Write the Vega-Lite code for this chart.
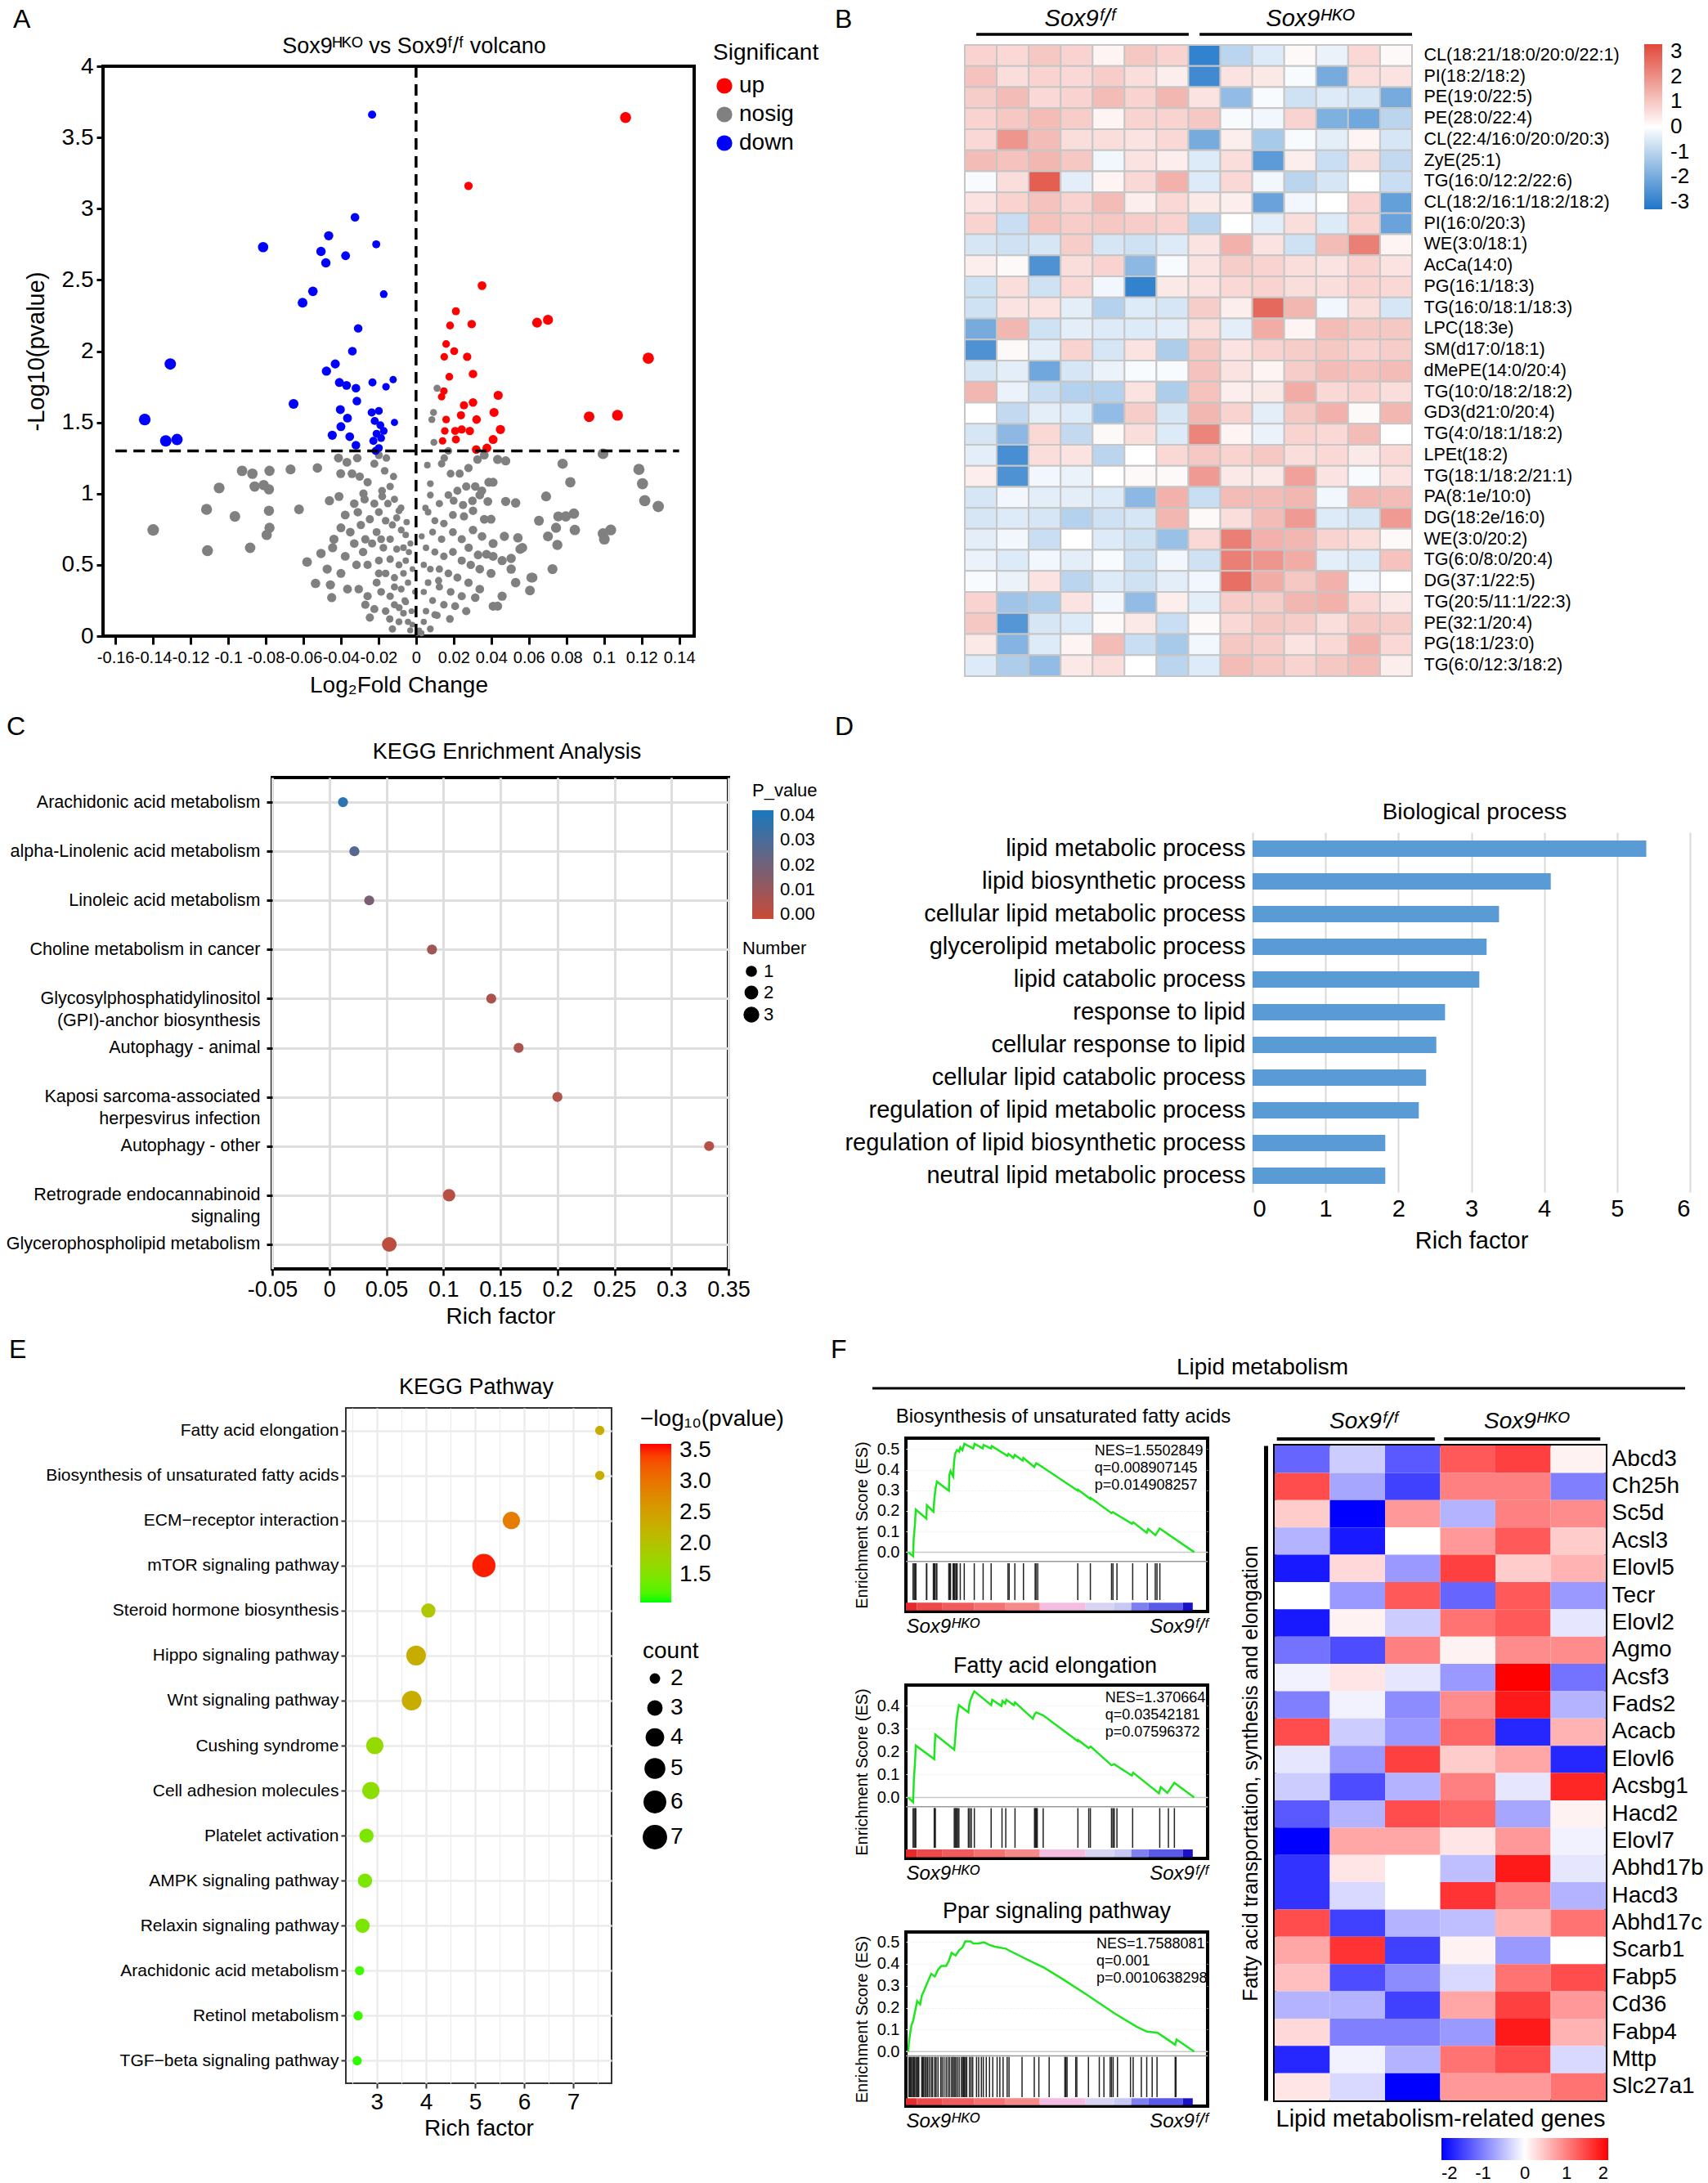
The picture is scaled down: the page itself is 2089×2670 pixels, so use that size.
{
"$schema":"https://vega.github.io/schema/vega-lite/v6.json",
"background":"white",
"padding":{"left":0,"top":8,"right":0,"bottom":0},
"config":{"font":"Liberation Sans","view":{"stroke":null},
"axis":{"labelColor":"black","titleColor":"black","tickColor":"black","domainColor":"black","titleFontWeight":"normal","labelFont":"Liberation Sans","titleFont":"Liberation Sans","labelLimit":0},
"legend":{"labelColor":"black","titleColor":"black","titleFontWeight":"normal","labelFont":"Liberation Sans","titleFont":"Liberation Sans","labelLimit":0,"titleLimit":0},
"title":{"fontWeight":"normal","color":"black","font":"Liberation Sans"},
"text":{"font":"Liberation Sans","color":"black"}},
"datasets":{
"volcano":[
{"x":-0.1399,"y":0.745,"s":"nosig"},{"x":-0.111,"y":0.6,"s":"nosig"},{"x":-0.1115,"y":0.89,"s":"nosig"},{"x":-0.1048,"y":1.04,"s":"nosig"},{"x":-0.0964,"y":0.84,"s":"nosig"},{"x":-0.0926,"y":1.16,"s":"nosig"},{"x":-0.0871,"y":1.14,"s":"nosig"},{"x":-0.078,"y":1.16,"s":"nosig"},{"x":-0.0859,"y":1.05,"s":"nosig"},{"x":-0.0811,"y":1.06,"s":"nosig"},{"x":-0.0783,"y":1.03,"s":"nosig"},{"x":-0.0783,"y":0.88,"s":"nosig"},{"x":-0.078,"y":0.76,"s":"nosig"},{"x":-0.0795,"y":0.71,"s":"nosig"},{"x":-0.0883,"y":0.62,"s":"nosig"},{"x":-0.0668,"y":1.17,"s":"nosig"},{"x":-0.0623,"y":0.89,"s":"nosig"},{"x":-0.0525,"y":1.18,"s":"nosig"},{"x":-0.0413,"y":1.25,"s":"nosig"},{"x":-0.0368,"y":1.22,"s":"nosig"},{"x":-0.0313,"y":1.25,"s":"nosig"},{"x":-0.058,"y":0.52,"s":"nosig"},{"x":-0.0535,"y":0.37,"s":"nosig"},{"x":-0.0506,"y":0.58,"s":"nosig"},{"x":-0.0473,"y":0.47,"s":"nosig"},{"x":-0.0456,"y":0.36,"s":"nosig"},{"x":-0.0449,"y":0.27,"s":"nosig"},{"x":-0.0444,"y":0.62,"s":"nosig"},{"x":-0.0461,"y":0.95,"s":"nosig"},{"x":-0.041,"y":0.98,"s":"nosig"},{"x":-0.0401,"y":1.14,"s":"nosig"},{"x":-0.0341,"y":1.14,"s":"nosig"},{"x":-0.0258,"y":1.08,"s":"nosig"},{"x":-0.0222,"y":1.21,"s":"nosig"},{"x":-0.0167,"y":1.16,"s":"nosig"},{"x":-0.0158,"y":1.25,"s":"nosig"},{"x":-0.0181,"y":1.02,"s":"nosig"},{"x":-0.0138,"y":1.05,"s":"nosig"},{"x":-0.0115,"y":0.96,"s":"nosig"},{"x":-0.0091,"y":0.88,"s":"nosig"},{"x":-0.031,"y":0.87,"s":"nosig"},{"x":-0.0274,"y":0.96,"s":"nosig"},{"x":-0.0329,"y":0.93,"s":"nosig"},{"x":-0.0377,"y":0.85,"s":"nosig"},{"x":-0.04,"y":0.76,"s":"nosig"},{"x":-0.035,"y":0.73,"s":"nosig"},{"x":-0.0294,"y":0.78,"s":"nosig"},{"x":-0.0246,"y":0.82,"s":"nosig"},{"x":-0.0198,"y":0.87,"s":"nosig"},{"x":-0.0162,"y":0.81,"s":"nosig"},{"x":-0.0126,"y":0.78,"s":"nosig"},{"x":-0.021,"y":0.73,"s":"nosig"},{"x":-0.0138,"y":0.68,"s":"nosig"},{"x":-0.0174,"y":0.62,"s":"nosig"},{"x":-0.0103,"y":0.61,"s":"nosig"},{"x":-0.0067,"y":0.62,"s":"nosig"},{"x":-0.0234,"y":0.65,"s":"nosig"},{"x":-0.0282,"y":0.59,"s":"nosig"},{"x":-0.0329,"y":0.65,"s":"nosig"},{"x":-0.0377,"y":0.56,"s":"nosig"},{"x":-0.0317,"y":0.5,"s":"nosig"},{"x":-0.0258,"y":0.5,"s":"nosig"},{"x":-0.0198,"y":0.53,"s":"nosig"},{"x":-0.0138,"y":0.54,"s":"nosig"},{"x":-0.0091,"y":0.5,"s":"nosig"},{"x":-0.0055,"y":0.53,"s":"nosig"},{"x":-0.0162,"y":0.44,"s":"nosig"},{"x":-0.0115,"y":0.41,"s":"nosig"},{"x":-0.0067,"y":0.44,"s":"nosig"},{"x":-0.021,"y":0.375,"s":"nosig"},{"x":-0.0305,"y":0.33,"s":"nosig"},{"x":-0.0365,"y":0.33,"s":"nosig"},{"x":-0.0258,"y":0.28,"s":"nosig"},{"x":-0.0186,"y":0.31,"s":"nosig"},{"x":-0.0138,"y":0.28,"s":"nosig"},{"x":-0.0079,"y":0.33,"s":"nosig"},{"x":-0.0043,"y":0.375,"s":"nosig"},{"x":-0.0115,"y":0.22,"s":"nosig"},{"x":-0.0055,"y":0.24,"s":"nosig"},{"x":-0.0162,"y":0.175,"s":"nosig"},{"x":-0.0246,"y":0.13,"s":"nosig"},{"x":-0.0067,"y":0.16,"s":"nosig"},{"x":-0.0091,"y":0.1,"s":"nosig"},{"x":-0.0043,"y":0.1,"s":"nosig"},{"x":-0.0126,"y":0.05,"s":"nosig"},{"x":-0.0031,"y":0.04,"s":"nosig"},{"x":-0.0019,"y":0.47,"s":"nosig"},{"x":-0.0038,"y":0.59,"s":"nosig"},{"x":-0.0055,"y":0.71,"s":"nosig"},{"x":-0.0079,"y":0.745,"s":"nosig"},{"x":-0.027,"y":0.22,"s":"nosig"},{"x":-0.0222,"y":0.19,"s":"nosig"},{"x":-0.0198,"y":0.44,"s":"nosig"},{"x":-0.0115,"y":0.345,"s":"nosig"},{"x":-0.0007,"y":0.31,"s":"nosig"},{"x":-0.0024,"y":0.175,"s":"nosig"},{"x":-0.04,"y":0.44,"s":"nosig"},{"x":-0.0437,"y":0.68,"s":"nosig"},{"x":-0.027,"y":0.68,"s":"nosig"},{"x":-0.0186,"y":0.68,"s":"nosig"},{"x":-0.015,"y":0.93,"s":"nosig"},{"x":-0.0103,"y":0.83,"s":"nosig"},{"x":-0.0222,"y":0.93,"s":"nosig"},{"x":-0.0198,"y":1.27,"s":"nosig"},{"x":-0.008,"y":0.9,"s":"nosig"},{"x":-0.005,"y":0.8,"s":"nosig"},{"x":-0.003,"y":0.65,"s":"nosig"},{"x":-0.012,"y":1.12,"s":"nosig"},{"x":-0.018,"y":0.98,"s":"nosig"},{"x":-0.028,"y":1.0,"s":"nosig"},{"x":-0.03,"y":1.12,"s":"nosig"},{"x":-0.006,"y":0.25,"s":"nosig"},{"x":-0.002,"y":0.08,"s":"nosig"},{"x":-0.009,"y":0.2,"s":"nosig"},{"x":-0.014,"y":0.12,"s":"nosig"},
{"x":0.0093,"y":1.57,"s":"nosig"},{"x":0.0084,"y":1.52,"s":"nosig"},{"x":0.0112,"y":1.74,"s":"nosig"},{"x":0.0095,"y":1.36,"s":"nosig"},{"x":0.0172,"y":1.3,"s":"nosig"},{"x":0.0136,"y":1.21,"s":"nosig"},{"x":0.0184,"y":1.14,"s":"nosig"},{"x":0.0232,"y":1.14,"s":"nosig"},{"x":0.0279,"y":1.18,"s":"nosig"},{"x":0.0327,"y":1.24,"s":"nosig"},{"x":0.0363,"y":1.27,"s":"nosig"},{"x":0.0434,"y":1.24,"s":"nosig"},{"x":0.0477,"y":1.23,"s":"nosig"},{"x":0.0387,"y":1.08,"s":"nosig"},{"x":0.041,"y":1.08,"s":"nosig"},{"x":0.0315,"y":1.05,"s":"nosig"},{"x":0.0339,"y":0.99,"s":"nosig"},{"x":0.0267,"y":1.05,"s":"nosig"},{"x":0.022,"y":1.02,"s":"nosig"},{"x":0.0172,"y":0.99,"s":"nosig"},{"x":0.0124,"y":0.93,"s":"nosig"},{"x":0.0076,"y":0.99,"s":"nosig"},{"x":0.0064,"y":0.87,"s":"nosig"},{"x":0.0076,"y":1.07,"s":"nosig"},{"x":0.0477,"y":0.945,"s":"nosig"},{"x":0.053,"y":0.935,"s":"nosig"},{"x":0.0382,"y":0.945,"s":"nosig"},{"x":0.0303,"y":0.88,"s":"nosig"},{"x":0.0363,"y":0.82,"s":"nosig"},{"x":0.0399,"y":0.82,"s":"nosig"},{"x":0.0255,"y":0.84,"s":"nosig"},{"x":0.0196,"y":0.85,"s":"nosig"},{"x":0.0148,"y":0.79,"s":"nosig"},{"x":0.01,"y":0.81,"s":"nosig"},{"x":0.0088,"y":0.73,"s":"nosig"},{"x":0.0136,"y":0.68,"s":"nosig"},{"x":0.0196,"y":0.73,"s":"nosig"},{"x":0.0243,"y":0.68,"s":"nosig"},{"x":0.0303,"y":0.745,"s":"nosig"},{"x":0.041,"y":0.65,"s":"nosig"},{"x":0.0351,"y":0.7,"s":"nosig"},{"x":0.047,"y":0.7,"s":"nosig"},{"x":0.0542,"y":0.69,"s":"nosig"},{"x":0.0375,"y":0.575,"s":"nosig"},{"x":0.041,"y":0.56,"s":"nosig"},{"x":0.0458,"y":0.53,"s":"nosig"},{"x":0.0506,"y":0.545,"s":"nosig"},{"x":0.0554,"y":0.61,"s":"nosig"},{"x":0.0566,"y":0.62,"s":"nosig"},{"x":0.0506,"y":0.47,"s":"nosig"},{"x":0.053,"y":0.375,"s":"nosig"},{"x":0.0613,"y":0.41,"s":"nosig"},{"x":0.0606,"y":0.32,"s":"nosig"},{"x":0.0458,"y":0.28,"s":"nosig"},{"x":0.041,"y":0.21,"s":"nosig"},{"x":0.0399,"y":0.44,"s":"nosig"},{"x":0.0339,"y":0.47,"s":"nosig"},{"x":0.0291,"y":0.5,"s":"nosig"},{"x":0.0243,"y":0.53,"s":"nosig"},{"x":0.0196,"y":0.59,"s":"nosig"},{"x":0.0148,"y":0.56,"s":"nosig"},{"x":0.01,"y":0.59,"s":"nosig"},{"x":0.0053,"y":0.62,"s":"nosig"},{"x":0.0041,"y":0.5,"s":"nosig"},{"x":0.0076,"y":0.47,"s":"nosig"},{"x":0.0124,"y":0.47,"s":"nosig"},{"x":0.0172,"y":0.44,"s":"nosig"},{"x":0.022,"y":0.41,"s":"nosig"},{"x":0.0279,"y":0.375,"s":"nosig"},{"x":0.0339,"y":0.33,"s":"nosig"},{"x":0.0315,"y":0.27,"s":"nosig"},{"x":0.0243,"y":0.28,"s":"nosig"},{"x":0.0184,"y":0.31,"s":"nosig"},{"x":0.0124,"y":0.345,"s":"nosig"},{"x":0.0064,"y":0.375,"s":"nosig"},{"x":0.0041,"y":0.31,"s":"nosig"},{"x":0.0088,"y":0.25,"s":"nosig"},{"x":0.0148,"y":0.22,"s":"nosig"},{"x":0.0208,"y":0.21,"s":"nosig"},{"x":0.0267,"y":0.175,"s":"nosig"},{"x":0.0053,"y":0.175,"s":"nosig"},{"x":0.0112,"y":0.145,"s":"nosig"},{"x":0.0041,"y":0.1,"s":"nosig"},{"x":0.0076,"y":0.05,"s":"nosig"},{"x":0.0017,"y":0.04,"s":"nosig"},{"x":0.0029,"y":0.02,"s":"nosig"},{"x":0.0005,"y":0.02,"s":"nosig"},{"x":0.0434,"y":0.21,"s":"nosig"},{"x":0.078,"y":1.21,"s":"nosig"},{"x":0.0821,"y":1.08,"s":"nosig"},{"x":0.0692,"y":0.98,"s":"nosig"},{"x":0.0654,"y":0.81,"s":"nosig"},{"x":0.0757,"y":0.84,"s":"nosig"},{"x":0.084,"y":0.86,"s":"nosig"},{"x":0.0797,"y":0.84,"s":"nosig"},{"x":0.0845,"y":0.745,"s":"nosig"},{"x":0.0745,"y":0.76,"s":"nosig"},{"x":0.0702,"y":0.7,"s":"nosig"},{"x":0.0752,"y":0.64,"s":"nosig"},{"x":0.0726,"y":0.47,"s":"nosig"},{"x":0.062,"y":0.41,"s":"nosig"},{"x":0.0995,"y":1.28,"s":"nosig"},{"x":0.1186,"y":1.17,"s":"nosig"},{"x":0.1205,"y":1.07,"s":"nosig"},{"x":0.1217,"y":0.95,"s":"nosig"},{"x":0.1289,"y":0.91,"s":"nosig"},{"x":0.1036,"y":0.745,"s":"nosig"},{"x":0.0995,"y":0.72,"s":"nosig"},{"x":0.1002,"y":0.68,"s":"nosig"},{"x":0.005,"y":0.9,"s":"nosig"},{"x":0.003,"y":0.7,"s":"nosig"},{"x":0.006,"y":1.2,"s":"nosig"},{"x":0.015,"y":1.25,"s":"nosig"},{"x":0.02,"y":0.95,"s":"nosig"},{"x":0.025,"y":0.92,"s":"nosig"},{"x":0.03,"y":0.95,"s":"nosig"},{"x":0.035,"y":1.02,"s":"nosig"},{"x":0.028,"y":0.62,"s":"nosig"},{"x":0.033,"y":0.57,"s":"nosig"},{"x":0.012,"y":0.39,"s":"nosig"},{"x":0.018,"y":0.12,"s":"nosig"},{"x":0.01,"y":0.15,"s":"nosig"},
{"x":-0.0234,"y":3.66,"s":"down"},{"x":-0.0814,"y":2.73,"s":"down"},{"x":-0.0465,"y":2.81,"s":"down"},{"x":-0.0506,"y":2.7,"s":"down"},{"x":-0.048,"y":2.62,"s":"down"},{"x":-0.0375,"y":2.67,"s":"down"},{"x":-0.0325,"y":2.94,"s":"down"},{"x":-0.0212,"y":2.75,"s":"down"},{"x":-0.0549,"y":2.42,"s":"down"},{"x":-0.0604,"y":2.34,"s":"down"},{"x":-0.0172,"y":2.4,"s":"down"},{"x":-0.0308,"y":2.16,"s":"down"},{"x":-0.0339,"y":2.0,"s":"down"},{"x":-0.043,"y":1.91,"s":"down"},{"x":-0.0477,"y":1.86,"s":"down"},{"x":-0.1308,"y":1.91,"s":"down"},{"x":-0.1444,"y":1.52,"s":"down"},{"x":-0.1332,"y":1.37,"s":"down"},{"x":-0.1272,"y":1.38,"s":"down"},{"x":-0.0652,"y":1.63,"s":"down"},{"x":-0.0408,"y":1.78,"s":"down"},{"x":-0.037,"y":1.76,"s":"down"},{"x":-0.032,"y":1.74,"s":"down"},{"x":-0.0315,"y":1.65,"s":"down"},{"x":-0.0232,"y":1.78,"s":"down"},{"x":-0.016,"y":1.75,"s":"down"},{"x":-0.0122,"y":1.8,"s":"down"},{"x":-0.0403,"y":1.59,"s":"down"},{"x":-0.0365,"y":1.53,"s":"down"},{"x":-0.04,"y":1.47,"s":"down"},{"x":-0.0446,"y":1.41,"s":"down"},{"x":-0.0353,"y":1.4,"s":"down"},{"x":-0.032,"y":1.34,"s":"down"},{"x":-0.0236,"y":1.57,"s":"down"},{"x":-0.0198,"y":1.58,"s":"down"},{"x":-0.022,"y":1.51,"s":"down"},{"x":-0.019,"y":1.48,"s":"down"},{"x":-0.0115,"y":1.5,"s":"down"},{"x":-0.021,"y":1.42,"s":"down"},{"x":-0.0172,"y":1.44,"s":"down"},{"x":-0.0227,"y":1.37,"s":"down"},{"x":-0.0198,"y":1.32,"s":"down"},{"x":-0.0215,"y":1.3,"s":"down"},{"x":-0.0186,"y":1.39,"s":"down"},
{"x":0.1115,"y":3.64,"s":"up"},{"x":0.0279,"y":3.16,"s":"up"},{"x":0.0351,"y":2.46,"s":"up"},{"x":0.0212,"y":2.28,"s":"up"},{"x":0.0181,"y":2.18,"s":"up"},{"x":0.0296,"y":2.19,"s":"up"},{"x":0.0644,"y":2.2,"s":"up"},{"x":0.0702,"y":2.22,"s":"up"},{"x":0.1236,"y":1.95,"s":"up"},{"x":0.016,"y":2.05,"s":"up"},{"x":0.0203,"y":2.0,"s":"up"},{"x":0.015,"y":1.96,"s":"up"},{"x":0.0272,"y":1.96,"s":"up"},{"x":0.0177,"y":1.82,"s":"up"},{"x":0.0303,"y":1.84,"s":"up"},{"x":0.0148,"y":1.72,"s":"up"},{"x":0.0136,"y":1.68,"s":"up"},{"x":0.0437,"y":1.69,"s":"up"},{"x":0.0255,"y":1.62,"s":"up"},{"x":0.0303,"y":1.64,"s":"up"},{"x":0.0415,"y":1.57,"s":"up"},{"x":0.0239,"y":1.55,"s":"up"},{"x":0.0322,"y":1.52,"s":"up"},{"x":0.016,"y":1.52,"s":"up"},{"x":0.0153,"y":1.44,"s":"up"},{"x":0.0208,"y":1.44,"s":"up"},{"x":0.0243,"y":1.45,"s":"up"},{"x":0.0286,"y":1.44,"s":"up"},{"x":0.0449,"y":1.45,"s":"up"},{"x":0.0141,"y":1.37,"s":"up"},{"x":0.0212,"y":1.38,"s":"up"},{"x":0.041,"y":1.38,"s":"up"},{"x":0.0377,"y":1.32,"s":"up"},{"x":0.032,"y":1.31,"s":"up"},{"x":0.0921,"y":1.54,"s":"up"},{"x":0.1072,"y":1.55,"s":"up"}
],
"bheat":[
{"g":"CL(18:21/18:0/20:0/22:1)","s":1,"v":0.8},{"g":"CL(18:21/18:0/20:0/22:1)","s":2,"v":0.7},{"g":"CL(18:21/18:0/20:0/22:1)","s":3,"v":1.0},{"g":"CL(18:21/18:0/20:0/22:1)","s":4,"v":0.8},{"g":"CL(18:21/18:0/20:0/22:1)","s":5,"v":0.2},{"g":"CL(18:21/18:0/20:0/22:1)","s":6,"v":1.0},{"g":"CL(18:21/18:0/20:0/22:1)","s":7,"v":0.8},{"g":"CL(18:21/18:0/20:0/22:1)","s":8,"v":-3.0},{"g":"CL(18:21/18:0/20:0/22:1)","s":9,"v":-1.0},{"g":"CL(18:21/18:0/20:0/22:1)","s":10,"v":-0.5},{"g":"CL(18:21/18:0/20:0/22:1)","s":11,"v":0.1},{"g":"CL(18:21/18:0/20:0/22:1)","s":12,"v":-0.3},{"g":"CL(18:21/18:0/20:0/22:1)","s":13,"v":0.7},{"g":"CL(18:21/18:0/20:0/22:1)","s":14,"v":0.1},
{"g":"PI(18:2/18:2)","s":1,"v":1.1},{"g":"PI(18:2/18:2)","s":2,"v":0.6},{"g":"PI(18:2/18:2)","s":3,"v":0.8},{"g":"PI(18:2/18:2)","s":4,"v":0.7},{"g":"PI(18:2/18:2)","s":5,"v":0.9},{"g":"PI(18:2/18:2)","s":6,"v":0.6},{"g":"PI(18:2/18:2)","s":7,"v":0.3},{"g":"PI(18:2/18:2)","s":8,"v":-2.8},{"g":"PI(18:2/18:2)","s":9,"v":0.5},{"g":"PI(18:2/18:2)","s":10,"v":0.4},{"g":"PI(18:2/18:2)","s":11,"v":-0.1},{"g":"PI(18:2/18:2)","s":12,"v":-2.0},{"g":"PI(18:2/18:2)","s":13,"v":0.6},{"g":"PI(18:2/18:2)","s":14,"v":0.5},
{"g":"PE(19:0/22:5)","s":1,"v":0.9},{"g":"PE(19:0/22:5)","s":2,"v":1.2},{"g":"PE(19:0/22:5)","s":3,"v":0.7},{"g":"PE(19:0/22:5)","s":4,"v":0.8},{"g":"PE(19:0/22:5)","s":5,"v":1.2},{"g":"PE(19:0/22:5)","s":6,"v":0.8},{"g":"PE(19:0/22:5)","s":7,"v":1.3},{"g":"PE(19:0/22:5)","s":8,"v":0.5},{"g":"PE(19:0/22:5)","s":9,"v":-1.6},{"g":"PE(19:0/22:5)","s":10,"v":-0.1},{"g":"PE(19:0/22:5)","s":11,"v":-0.7},{"g":"PE(19:0/22:5)","s":12,"v":-0.5},{"g":"PE(19:0/22:5)","s":13,"v":-0.6},{"g":"PE(19:0/22:5)","s":14,"v":-2.0},
{"g":"PE(28:0/22:4)","s":1,"v":0.8},{"g":"PE(28:0/22:4)","s":2,"v":1.0},{"g":"PE(28:0/22:4)","s":3,"v":1.2},{"g":"PE(28:0/22:4)","s":4,"v":0.9},{"g":"PE(28:0/22:4)","s":5,"v":0.2},{"g":"PE(28:0/22:4)","s":6,"v":0.8},{"g":"PE(28:0/22:4)","s":7,"v":0.8},{"g":"PE(28:0/22:4)","s":8,"v":1.0},{"g":"PE(28:0/22:4)","s":9,"v":-0.1},{"g":"PE(28:0/22:4)","s":10,"v":-0.2},{"g":"PE(28:0/22:4)","s":11,"v":0.8},{"g":"PE(28:0/22:4)","s":12,"v":-1.9},{"g":"PE(28:0/22:4)","s":13,"v":-2.1},{"g":"PE(28:0/22:4)","s":14,"v":-1.0},
{"g":"CL(22:4/16:0/20:0/20:3)","s":1,"v":0.7},{"g":"CL(22:4/16:0/20:0/20:3)","s":2,"v":1.9},{"g":"CL(22:4/16:0/20:0/20:3)","s":3,"v":1.2},{"g":"CL(22:4/16:0/20:0/20:3)","s":4,"v":0.6},{"g":"CL(22:4/16:0/20:0/20:3)","s":5,"v":0.6},{"g":"CL(22:4/16:0/20:0/20:3)","s":6,"v":0.5},{"g":"CL(22:4/16:0/20:0/20:3)","s":7,"v":0.7},{"g":"CL(22:4/16:0/20:0/20:3)","s":8,"v":-2.0},{"g":"CL(22:4/16:0/20:0/20:3)","s":9,"v":0.3},{"g":"CL(22:4/16:0/20:0/20:3)","s":10,"v":-1.3},{"g":"CL(22:4/16:0/20:0/20:3)","s":11,"v":-0.1},{"g":"CL(22:4/16:0/20:0/20:3)","s":12,"v":-0.4},{"g":"CL(22:4/16:0/20:0/20:3)","s":13,"v":0.2},{"g":"CL(22:4/16:0/20:0/20:3)","s":14,"v":-0.6},
{"g":"ZyE(25:1)","s":1,"v":1.2},{"g":"ZyE(25:1)","s":2,"v":1.1},{"g":"ZyE(25:1)","s":3,"v":1.3},{"g":"ZyE(25:1)","s":4,"v":1.0},{"g":"ZyE(25:1)","s":5,"v":-0.2},{"g":"ZyE(25:1)","s":6,"v":0.5},{"g":"ZyE(25:1)","s":7,"v":0.3},{"g":"ZyE(25:1)","s":8,"v":-0.5},{"g":"ZyE(25:1)","s":9,"v":0.6},{"g":"ZyE(25:1)","s":10,"v":-2.4},{"g":"ZyE(25:1)","s":11,"v":0.3},{"g":"ZyE(25:1)","s":12,"v":-0.8},{"g":"ZyE(25:1)","s":13,"v":0.6},{"g":"ZyE(25:1)","s":14,"v":-0.9},
{"g":"TG(16:0/12:2/22:6)","s":1,"v":-0.1},{"g":"TG(16:0/12:2/22:6)","s":2,"v":0.6},{"g":"TG(16:0/12:2/22:6)","s":3,"v":2.9},{"g":"TG(16:0/12:2/22:6)","s":4,"v":-0.4},{"g":"TG(16:0/12:2/22:6)","s":5,"v":0.2},{"g":"TG(16:0/12:2/22:6)","s":6,"v":0.7},{"g":"TG(16:0/12:2/22:6)","s":7,"v":1.4},{"g":"TG(16:0/12:2/22:6)","s":8,"v":-0.5},{"g":"TG(16:0/12:2/22:6)","s":9,"v":0.7},{"g":"TG(16:0/12:2/22:6)","s":10,"v":-0.2},{"g":"TG(16:0/12:2/22:6)","s":11,"v":-1.0},{"g":"TG(16:0/12:2/22:6)","s":12,"v":-0.6},{"g":"TG(16:0/12:2/22:6)","s":13,"v":0.0},{"g":"TG(16:0/12:2/22:6)","s":14,"v":-0.8},
{"g":"CL(18:2/16:1/18:2/18:2)","s":1,"v":0.5},{"g":"CL(18:2/16:1/18:2/18:2)","s":2,"v":0.8},{"g":"CL(18:2/16:1/18:2/18:2)","s":3,"v":1.1},{"g":"CL(18:2/16:1/18:2/18:2)","s":4,"v":0.8},{"g":"CL(18:2/16:1/18:2/18:2)","s":5,"v":1.2},{"g":"CL(18:2/16:1/18:2/18:2)","s":6,"v":0.3},{"g":"CL(18:2/16:1/18:2/18:2)","s":7,"v":0.7},{"g":"CL(18:2/16:1/18:2/18:2)","s":8,"v":0.4},{"g":"CL(18:2/16:1/18:2/18:2)","s":9,"v":0.3},{"g":"CL(18:2/16:1/18:2/18:2)","s":10,"v":-2.2},{"g":"CL(18:2/16:1/18:2/18:2)","s":11,"v":-0.2},{"g":"CL(18:2/16:1/18:2/18:2)","s":12,"v":0.0},{"g":"CL(18:2/16:1/18:2/18:2)","s":13,"v":0.8},{"g":"CL(18:2/16:1/18:2/18:2)","s":14,"v":-2.3},
{"g":"PI(16:0/20:3)","s":1,"v":0.8},{"g":"PI(16:0/20:3)","s":2,"v":-0.8},{"g":"PI(16:0/20:3)","s":3,"v":1.1},{"g":"PI(16:0/20:3)","s":4,"v":0.9},{"g":"PI(16:0/20:3)","s":5,"v":1.0},{"g":"PI(16:0/20:3)","s":6,"v":0.9},{"g":"PI(16:0/20:3)","s":7,"v":0.8},{"g":"PI(16:0/20:3)","s":8,"v":-1.0},{"g":"PI(16:0/20:3)","s":9,"v":0.0},{"g":"PI(16:0/20:3)","s":10,"v":-0.4},{"g":"PI(16:0/20:3)","s":11,"v":0.6},{"g":"PI(16:0/20:3)","s":12,"v":-0.5},{"g":"PI(16:0/20:3)","s":13,"v":0.8},{"g":"PI(16:0/20:3)","s":14,"v":-2.2},
{"g":"WE(3:0/18:1)","s":1,"v":-0.6},{"g":"WE(3:0/18:1)","s":2,"v":-0.7},{"g":"WE(3:0/18:1)","s":3,"v":-0.6},{"g":"WE(3:0/18:1)","s":4,"v":0.9},{"g":"WE(3:0/18:1)","s":5,"v":-0.6},{"g":"WE(3:0/18:1)","s":6,"v":-0.7},{"g":"WE(3:0/18:1)","s":7,"v":-0.5},{"g":"WE(3:0/18:1)","s":8,"v":0.5},{"g":"WE(3:0/18:1)","s":9,"v":1.4},{"g":"WE(3:0/18:1)","s":10,"v":0.5},{"g":"WE(3:0/18:1)","s":11,"v":-0.7},{"g":"WE(3:0/18:1)","s":12,"v":1.2},{"g":"WE(3:0/18:1)","s":13,"v":2.3},{"g":"WE(3:0/18:1)","s":14,"v":0.2},
{"g":"AcCa(14:0)","s":1,"v":0.3},{"g":"AcCa(14:0)","s":2,"v":0.1},{"g":"AcCa(14:0)","s":3,"v":-2.6},{"g":"AcCa(14:0)","s":4,"v":0.6},{"g":"AcCa(14:0)","s":5,"v":0.8},{"g":"AcCa(14:0)","s":6,"v":-1.7},{"g":"AcCa(14:0)","s":7,"v":-0.1},{"g":"AcCa(14:0)","s":8,"v":0.5},{"g":"AcCa(14:0)","s":9,"v":0.9},{"g":"AcCa(14:0)","s":10,"v":0.8},{"g":"AcCa(14:0)","s":11,"v":0.6},{"g":"AcCa(14:0)","s":12,"v":0.5},{"g":"AcCa(14:0)","s":13,"v":0.8},{"g":"AcCa(14:0)","s":14,"v":0.5},
{"g":"PG(16:1/18:3)","s":1,"v":-0.7},{"g":"PG(16:1/18:3)","s":2,"v":0.6},{"g":"PG(16:1/18:3)","s":3,"v":-0.7},{"g":"PG(16:1/18:3)","s":4,"v":0.7},{"g":"PG(16:1/18:3)","s":5,"v":-0.2},{"g":"PG(16:1/18:3)","s":6,"v":-3.0},{"g":"PG(16:1/18:3)","s":7,"v":0.4},{"g":"PG(16:1/18:3)","s":8,"v":0.5},{"g":"PG(16:1/18:3)","s":9,"v":0.7},{"g":"PG(16:1/18:3)","s":10,"v":0.8},{"g":"PG(16:1/18:3)","s":11,"v":0.6},{"g":"PG(16:1/18:3)","s":12,"v":0.6},{"g":"PG(16:1/18:3)","s":13,"v":0.8},{"g":"PG(16:1/18:3)","s":14,"v":0.7},
{"g":"TG(16:0/18:1/18:3)","s":1,"v":-0.7},{"g":"TG(16:0/18:1/18:3)","s":2,"v":0.5},{"g":"TG(16:0/18:1/18:3)","s":3,"v":0.5},{"g":"TG(16:0/18:1/18:3)","s":4,"v":-0.4},{"g":"TG(16:0/18:1/18:3)","s":5,"v":-1.1},{"g":"TG(16:0/18:1/18:3)","s":6,"v":-0.5},{"g":"TG(16:0/18:1/18:3)","s":7,"v":-0.6},{"g":"TG(16:0/18:1/18:3)","s":8,"v":0.9},{"g":"TG(16:0/18:1/18:3)","s":9,"v":0.3},{"g":"TG(16:0/18:1/18:3)","s":10,"v":2.7},{"g":"TG(16:0/18:1/18:3)","s":11,"v":1.3},{"g":"TG(16:0/18:1/18:3)","s":12,"v":-0.2},{"g":"TG(16:0/18:1/18:3)","s":13,"v":0.6},{"g":"TG(16:0/18:1/18:3)","s":14,"v":-0.6},
{"g":"LPC(18:3e)","s":1,"v":-2.0},{"g":"LPC(18:3e)","s":2,"v":1.3},{"g":"LPC(18:3e)","s":3,"v":-0.7},{"g":"LPC(18:3e)","s":4,"v":-0.4},{"g":"LPC(18:3e)","s":5,"v":-0.5},{"g":"LPC(18:3e)","s":6,"v":-0.5},{"g":"LPC(18:3e)","s":7,"v":-0.4},{"g":"LPC(18:3e)","s":8,"v":0.6},{"g":"LPC(18:3e)","s":9,"v":-0.4},{"g":"LPC(18:3e)","s":10,"v":1.5},{"g":"LPC(18:3e)","s":11,"v":0.2},{"g":"LPC(18:3e)","s":12,"v":1.2},{"g":"LPC(18:3e)","s":13,"v":1.0},{"g":"LPC(18:3e)","s":14,"v":1.0},
{"g":"SM(d17:0/18:1)","s":1,"v":-2.6},{"g":"SM(d17:0/18:1)","s":2,"v":0.1},{"g":"SM(d17:0/18:1)","s":3,"v":-0.4},{"g":"SM(d17:0/18:1)","s":4,"v":0.8},{"g":"SM(d17:0/18:1)","s":5,"v":-0.6},{"g":"SM(d17:0/18:1)","s":6,"v":0.5},{"g":"SM(d17:0/18:1)","s":7,"v":-1.2},{"g":"SM(d17:0/18:1)","s":8,"v":1.0},{"g":"SM(d17:0/18:1)","s":9,"v":0.5},{"g":"SM(d17:0/18:1)","s":10,"v":0.8},{"g":"SM(d17:0/18:1)","s":11,"v":0.9},{"g":"SM(d17:0/18:1)","s":12,"v":1.0},{"g":"SM(d17:0/18:1)","s":13,"v":0.8},{"g":"SM(d17:0/18:1)","s":14,"v":0.9},
{"g":"dMePE(14:0/20:4)","s":1,"v":-0.6},{"g":"dMePE(14:0/20:4)","s":2,"v":-0.4},{"g":"dMePE(14:0/20:4)","s":3,"v":-2.1},{"g":"dMePE(14:0/20:4)","s":4,"v":-0.6},{"g":"dMePE(14:0/20:4)","s":5,"v":-0.3},{"g":"dMePE(14:0/20:4)","s":6,"v":-0.1},{"g":"dMePE(14:0/20:4)","s":7,"v":-0.1},{"g":"dMePE(14:0/20:4)","s":8,"v":1.1},{"g":"dMePE(14:0/20:4)","s":9,"v":0.5},{"g":"dMePE(14:0/20:4)","s":10,"v":0.2},{"g":"dMePE(14:0/20:4)","s":11,"v":0.9},{"g":"dMePE(14:0/20:4)","s":12,"v":1.2},{"g":"dMePE(14:0/20:4)","s":13,"v":1.1},{"g":"dMePE(14:0/20:4)","s":14,"v":1.2},
{"g":"TG(10:0/18:2/18:2)","s":1,"v":1.3},{"g":"TG(10:0/18:2/18:2)","s":2,"v":-0.3},{"g":"TG(10:0/18:2/18:2)","s":3,"v":-0.8},{"g":"TG(10:0/18:2/18:2)","s":4,"v":-1.1},{"g":"TG(10:0/18:2/18:2)","s":5,"v":-1.1},{"g":"TG(10:0/18:2/18:2)","s":6,"v":0.5},{"g":"TG(10:0/18:2/18:2)","s":7,"v":-1.2},{"g":"TG(10:0/18:2/18:2)","s":8,"v":1.1},{"g":"TG(10:0/18:2/18:2)","s":9,"v":0.3},{"g":"TG(10:0/18:2/18:2)","s":10,"v":0.4},{"g":"TG(10:0/18:2/18:2)","s":11,"v":1.5},{"g":"TG(10:0/18:2/18:2)","s":12,"v":0.7},{"g":"TG(10:0/18:2/18:2)","s":13,"v":0.8},{"g":"TG(10:0/18:2/18:2)","s":14,"v":0.6},
{"g":"GD3(d21:0/20:4)","s":1,"v":0.0},{"g":"GD3(d21:0/20:4)","s":2,"v":-0.9},{"g":"GD3(d21:0/20:4)","s":3,"v":-0.4},{"g":"GD3(d21:0/20:4)","s":4,"v":-0.5},{"g":"GD3(d21:0/20:4)","s":5,"v":-1.6},{"g":"GD3(d21:0/20:4)","s":6,"v":0.9},{"g":"GD3(d21:0/20:4)","s":7,"v":-0.6},{"g":"GD3(d21:0/20:4)","s":8,"v":1.3},{"g":"GD3(d21:0/20:4)","s":9,"v":0.8},{"g":"GD3(d21:0/20:4)","s":10,"v":-0.4},{"g":"GD3(d21:0/20:4)","s":11,"v":1.0},{"g":"GD3(d21:0/20:4)","s":12,"v":1.4},{"g":"GD3(d21:0/20:4)","s":13,"v":0.1},{"g":"GD3(d21:0/20:4)","s":14,"v":1.3},
{"g":"TG(4:0/18:1/18:2)","s":1,"v":-0.6},{"g":"TG(4:0/18:1/18:2)","s":2,"v":-1.7},{"g":"TG(4:0/18:1/18:2)","s":3,"v":0.7},{"g":"TG(4:0/18:1/18:2)","s":4,"v":-0.9},{"g":"TG(4:0/18:1/18:2)","s":5,"v":0.1},{"g":"TG(4:0/18:1/18:2)","s":6,"v":0.6},{"g":"TG(4:0/18:1/18:2)","s":7,"v":-0.5},{"g":"TG(4:0/18:1/18:2)","s":8,"v":2.2},{"g":"TG(4:0/18:1/18:2)","s":9,"v":0.2},{"g":"TG(4:0/18:1/18:2)","s":10,"v":-0.3},{"g":"TG(4:0/18:1/18:2)","s":11,"v":0.8},{"g":"TG(4:0/18:1/18:2)","s":12,"v":0.7},{"g":"TG(4:0/18:1/18:2)","s":13,"v":1.2},{"g":"TG(4:0/18:1/18:2)","s":14,"v":0.0},
{"g":"LPEt(18:2)","s":1,"v":-0.4},{"g":"LPEt(18:2)","s":2,"v":-2.7},{"g":"LPEt(18:2)","s":3,"v":0.6},{"g":"LPEt(18:2)","s":4,"v":0.5},{"g":"LPEt(18:2)","s":5,"v":-1.0},{"g":"LPEt(18:2)","s":6,"v":0.0},{"g":"LPEt(18:2)","s":7,"v":0.7},{"g":"LPEt(18:2)","s":8,"v":1.0},{"g":"LPEt(18:2)","s":9,"v":0.8},{"g":"LPEt(18:2)","s":10,"v":1.0},{"g":"LPEt(18:2)","s":11,"v":0.6},{"g":"LPEt(18:2)","s":12,"v":0.7},{"g":"LPEt(18:2)","s":13,"v":0.4},{"g":"LPEt(18:2)","s":14,"v":0.7},
{"g":"TG(18:1/18:2/21:1)","s":1,"v":0.3},{"g":"TG(18:1/18:2/21:1)","s":2,"v":-2.6},{"g":"TG(18:1/18:2/21:1)","s":3,"v":-0.2},{"g":"TG(18:1/18:2/21:1)","s":4,"v":-0.3},{"g":"TG(18:1/18:2/21:1)","s":5,"v":0.0},{"g":"TG(18:1/18:2/21:1)","s":6,"v":0.1},{"g":"TG(18:1/18:2/21:1)","s":7,"v":0.1},{"g":"TG(18:1/18:2/21:1)","s":8,"v":1.8},{"g":"TG(18:1/18:2/21:1)","s":9,"v":0.4},{"g":"TG(18:1/18:2/21:1)","s":10,"v":0.4},{"g":"TG(18:1/18:2/21:1)","s":11,"v":1.7},{"g":"TG(18:1/18:2/21:1)","s":12,"v":0.5},{"g":"TG(18:1/18:2/21:1)","s":13,"v":-0.1},{"g":"TG(18:1/18:2/21:1)","s":14,"v":0.5},
{"g":"PA(8:1e/10:0)","s":1,"v":-0.6},{"g":"PA(8:1e/10:0)","s":2,"v":-0.2},{"g":"PA(8:1e/10:0)","s":3,"v":-0.4},{"g":"PA(8:1e/10:0)","s":4,"v":-0.4},{"g":"PA(8:1e/10:0)","s":5,"v":-0.5},{"g":"PA(8:1e/10:0)","s":6,"v":-1.7},{"g":"PA(8:1e/10:0)","s":7,"v":1.4},{"g":"PA(8:1e/10:0)","s":8,"v":-0.8},{"g":"PA(8:1e/10:0)","s":9,"v":1.2},{"g":"PA(8:1e/10:0)","s":10,"v":1.2},{"g":"PA(8:1e/10:0)","s":11,"v":1.3},{"g":"PA(8:1e/10:0)","s":12,"v":-0.2},{"g":"PA(8:1e/10:0)","s":13,"v":1.3},{"g":"PA(8:1e/10:0)","s":14,"v":1.2},
{"g":"DG(18:2e/16:0)","s":1,"v":-0.6},{"g":"DG(18:2e/16:0)","s":2,"v":-0.5},{"g":"DG(18:2e/16:0)","s":3,"v":-0.6},{"g":"DG(18:2e/16:0)","s":4,"v":-1.1},{"g":"DG(18:2e/16:0)","s":5,"v":-0.7},{"g":"DG(18:2e/16:0)","s":6,"v":-0.6},{"g":"DG(18:2e/16:0)","s":7,"v":1.3},{"g":"DG(18:2e/16:0)","s":8,"v":0.1},{"g":"DG(18:2e/16:0)","s":9,"v":0.6},{"g":"DG(18:2e/16:0)","s":10,"v":1.2},{"g":"DG(18:2e/16:0)","s":11,"v":1.8},{"g":"DG(18:2e/16:0)","s":12,"v":-0.5},{"g":"DG(18:2e/16:0)","s":13,"v":-0.6},{"g":"DG(18:2e/16:0)","s":14,"v":1.8},
{"g":"WE(3:0/20:2)","s":1,"v":-0.4},{"g":"WE(3:0/20:2)","s":2,"v":-0.2},{"g":"WE(3:0/20:2)","s":3,"v":-0.8},{"g":"WE(3:0/20:2)","s":4,"v":0.0},{"g":"WE(3:0/20:2)","s":5,"v":-0.5},{"g":"WE(3:0/20:2)","s":6,"v":-0.7},{"g":"WE(3:0/20:2)","s":7,"v":-1.5},{"g":"WE(3:0/20:2)","s":8,"v":0.7},{"g":"WE(3:0/20:2)","s":9,"v":2.3},{"g":"WE(3:0/20:2)","s":10,"v":1.4},{"g":"WE(3:0/20:2)","s":11,"v":1.3},{"g":"WE(3:0/20:2)","s":12,"v":0.8},{"g":"WE(3:0/20:2)","s":13,"v":0.6},{"g":"WE(3:0/20:2)","s":14,"v":0.1},
{"g":"TG(6:0/8:0/20:4)","s":1,"v":-0.3},{"g":"TG(6:0/8:0/20:4)","s":2,"v":-0.5},{"g":"TG(6:0/8:0/20:4)","s":3,"v":-0.2},{"g":"TG(6:0/8:0/20:4)","s":4,"v":-0.4},{"g":"TG(6:0/8:0/20:4)","s":5,"v":-0.1},{"g":"TG(6:0/8:0/20:4)","s":6,"v":-0.7},{"g":"TG(6:0/8:0/20:4)","s":7,"v":-0.2},{"g":"TG(6:0/8:0/20:4)","s":8,"v":-0.7},{"g":"TG(6:0/8:0/20:4)","s":9,"v":2.3},{"g":"TG(6:0/8:0/20:4)","s":10,"v":1.9},{"g":"TG(6:0/8:0/20:4)","s":11,"v":1.5},{"g":"TG(6:0/8:0/20:4)","s":12,"v":-0.4},{"g":"TG(6:0/8:0/20:4)","s":13,"v":-0.5},{"g":"TG(6:0/8:0/20:4)","s":14,"v":1.1},
{"g":"DG(37:1/22:5)","s":1,"v":-0.1},{"g":"DG(37:1/22:5)","s":2,"v":-0.3},{"g":"DG(37:1/22:5)","s":3,"v":0.5},{"g":"DG(37:1/22:5)","s":4,"v":-1.0},{"g":"DG(37:1/22:5)","s":5,"v":-0.5},{"g":"DG(37:1/22:5)","s":6,"v":-0.7},{"g":"DG(37:1/22:5)","s":7,"v":-0.4},{"g":"DG(37:1/22:5)","s":8,"v":-0.2},{"g":"DG(37:1/22:5)","s":9,"v":2.6},{"g":"DG(37:1/22:5)","s":10,"v":1.5},{"g":"DG(37:1/22:5)","s":11,"v":1.0},{"g":"DG(37:1/22:5)","s":12,"v":1.4},{"g":"DG(37:1/22:5)","s":13,"v":-0.2},{"g":"DG(37:1/22:5)","s":14,"v":0.0},
{"g":"TG(20:5/11:1/22:3)","s":1,"v":0.8},{"g":"TG(20:5/11:1/22:3)","s":2,"v":-1.4},{"g":"TG(20:5/11:1/22:3)","s":3,"v":-1.2},{"g":"TG(20:5/11:1/22:3)","s":4,"v":0.5},{"g":"TG(20:5/11:1/22:3)","s":5,"v":-0.2},{"g":"TG(20:5/11:1/22:3)","s":6,"v":-1.6},{"g":"TG(20:5/11:1/22:3)","s":7,"v":0.3},{"g":"TG(20:5/11:1/22:3)","s":8,"v":-0.4},{"g":"TG(20:5/11:1/22:3)","s":9,"v":0.9},{"g":"TG(20:5/11:1/22:3)","s":10,"v":0.9},{"g":"TG(20:5/11:1/22:3)","s":11,"v":1.3},{"g":"TG(20:5/11:1/22:3)","s":12,"v":1.4},{"g":"TG(20:5/11:1/22:3)","s":13,"v":0.7},{"g":"TG(20:5/11:1/22:3)","s":14,"v":0.4},
{"g":"PE(32:1/20:4)","s":1,"v":1.0},{"g":"PE(32:1/20:4)","s":2,"v":-2.5},{"g":"PE(32:1/20:4)","s":3,"v":-0.6},{"g":"PE(32:1/20:4)","s":4,"v":-0.5},{"g":"PE(32:1/20:4)","s":5,"v":0.1},{"g":"PE(32:1/20:4)","s":6,"v":0.4},{"g":"PE(32:1/20:4)","s":7,"v":-0.8},{"g":"PE(32:1/20:4)","s":8,"v":0.1},{"g":"PE(32:1/20:4)","s":9,"v":0.7},{"g":"PE(32:1/20:4)","s":10,"v":1.0},{"g":"PE(32:1/20:4)","s":11,"v":0.9},{"g":"PE(32:1/20:4)","s":12,"v":0.6},{"g":"PE(32:1/20:4)","s":13,"v":1.0},{"g":"PE(32:1/20:4)","s":14,"v":0.9},
{"g":"PG(18:1/23:0)","s":1,"v":0.4},{"g":"PG(18:1/23:0)","s":2,"v":-1.8},{"g":"PG(18:1/23:0)","s":3,"v":-0.5},{"g":"PG(18:1/23:0)","s":4,"v":0.2},{"g":"PG(18:1/23:0)","s":5,"v":1.2},{"g":"PG(18:1/23:0)","s":6,"v":-0.8},{"g":"PG(18:1/23:0)","s":7,"v":-1.3},{"g":"PG(18:1/23:0)","s":8,"v":-0.2},{"g":"PG(18:1/23:0)","s":9,"v":1.0},{"g":"PG(18:1/23:0)","s":10,"v":0.9},{"g":"PG(18:1/23:0)","s":11,"v":0.5},{"g":"PG(18:1/23:0)","s":12,"v":0.7},{"g":"PG(18:1/23:0)","s":13,"v":1.4},{"g":"PG(18:1/23:0)","s":14,"v":0.7},
{"g":"TG(6:0/12:3/18:2)","s":1,"v":-0.5},{"g":"TG(6:0/12:3/18:2)","s":2,"v":-1.2},{"g":"TG(6:0/12:3/18:2)","s":3,"v":-1.6},{"g":"TG(6:0/12:3/18:2)","s":4,"v":0.4},{"g":"TG(6:0/12:3/18:2)","s":5,"v":0.6},{"g":"TG(6:0/12:3/18:2)","s":6,"v":0.0},{"g":"TG(6:0/12:3/18:2)","s":7,"v":-1.0},{"g":"TG(6:0/12:3/18:2)","s":8,"v":-0.5},{"g":"TG(6:0/12:3/18:2)","s":9,"v":1.2},{"g":"TG(6:0/12:3/18:2)","s":10,"v":1.0},{"g":"TG(6:0/12:3/18:2)","s":11,"v":0.8},{"g":"TG(6:0/12:3/18:2)","s":12,"v":1.0},{"g":"TG(6:0/12:3/18:2)","s":13,"v":1.2},{"g":"TG(6:0/12:3/18:2)","s":14,"v":0.3}
],
"fheat":[
{"g":"Abcd3","s":1,"v":-1.2},{"g":"Abcd3","s":2,"v":-0.4},{"g":"Abcd3","s":3,"v":-1.3},{"g":"Abcd3","s":4,"v":1.3},{"g":"Abcd3","s":5,"v":1.5},{"g":"Abcd3","s":6,"v":0.1},
{"g":"Ch25h","s":1,"v":1.4},{"g":"Ch25h","s":2,"v":-0.7},{"g":"Ch25h","s":3,"v":-1.5},{"g":"Ch25h","s":4,"v":1.0},{"g":"Ch25h","s":5,"v":1.0},{"g":"Ch25h","s":6,"v":-1.0},
{"g":"Sc5d","s":1,"v":0.4},{"g":"Sc5d","s":2,"v":-2.0},{"g":"Sc5d","s":3,"v":0.8},{"g":"Sc5d","s":4,"v":-0.6},{"g":"Sc5d","s":5,"v":1.0},{"g":"Sc5d","s":6,"v":0.9},
{"g":"Acsl3","s":1,"v":-0.6},{"g":"Acsl3","s":2,"v":-1.8},{"g":"Acsl3","s":3,"v":0.0},{"g":"Acsl3","s":4,"v":0.8},{"g":"Acsl3","s":5,"v":1.3},{"g":"Acsl3","s":6,"v":0.4},
{"g":"Elovl5","s":1,"v":-1.8},{"g":"Elovl5","s":2,"v":0.3},{"g":"Elovl5","s":3,"v":-0.8},{"g":"Elovl5","s":4,"v":1.5},{"g":"Elovl5","s":5,"v":0.4},{"g":"Elovl5","s":6,"v":0.6},
{"g":"Tecr","s":1,"v":0.0},{"g":"Tecr","s":2,"v":-0.8},{"g":"Tecr","s":3,"v":1.3},{"g":"Tecr","s":4,"v":-1.2},{"g":"Tecr","s":5,"v":1.3},{"g":"Tecr","s":6,"v":-0.8},
{"g":"Elovl2","s":1,"v":-1.8},{"g":"Elovl2","s":2,"v":0.1},{"g":"Elovl2","s":3,"v":-0.4},{"g":"Elovl2","s":4,"v":1.1},{"g":"Elovl2","s":5,"v":1.3},{"g":"Elovl2","s":6,"v":-0.2},
{"g":"Agmo","s":1,"v":-1.1},{"g":"Agmo","s":2,"v":-1.4},{"g":"Agmo","s":3,"v":1.0},{"g":"Agmo","s":4,"v":0.1},{"g":"Agmo","s":5,"v":0.9},{"g":"Agmo","s":6,"v":0.9},
{"g":"Acsf3","s":1,"v":-0.1},{"g":"Acsf3","s":2,"v":0.2},{"g":"Acsf3","s":3,"v":-0.2},{"g":"Acsf3","s":4,"v":-0.8},{"g":"Acsf3","s":5,"v":2.0},{"g":"Acsf3","s":6,"v":-1.1},
{"g":"Fads2","s":1,"v":-1.0},{"g":"Fads2","s":2,"v":-0.1},{"g":"Fads2","s":3,"v":-0.9},{"g":"Fads2","s":4,"v":0.9},{"g":"Fads2","s":5,"v":1.8},{"g":"Fads2","s":6,"v":-0.6},
{"g":"Acacb","s":1,"v":1.4},{"g":"Acacb","s":2,"v":-0.4},{"g":"Acacb","s":3,"v":-0.8},{"g":"Acacb","s":4,"v":1.2},{"g":"Acacb","s":5,"v":-1.7},{"g":"Acacb","s":6,"v":0.6},
{"g":"Elovl6","s":1,"v":-0.2},{"g":"Elovl6","s":2,"v":-0.8},{"g":"Elovl6","s":3,"v":1.5},{"g":"Elovl6","s":4,"v":0.4},{"g":"Elovl6","s":5,"v":0.7},{"g":"Elovl6","s":6,"v":-1.7},
{"g":"Acsbg1","s":1,"v":-0.4},{"g":"Acsbg1","s":2,"v":-1.4},{"g":"Acsbg1","s":3,"v":-0.6},{"g":"Acsbg1","s":4,"v":1.0},{"g":"Acsbg1","s":5,"v":-0.2},{"g":"Acsbg1","s":6,"v":1.7},
{"g":"Hacd2","s":1,"v":-1.3},{"g":"Hacd2","s":2,"v":-0.6},{"g":"Hacd2","s":3,"v":1.4},{"g":"Hacd2","s":4,"v":1.2},{"g":"Hacd2","s":5,"v":-0.7},{"g":"Hacd2","s":6,"v":0.1},
{"g":"Elovl7","s":1,"v":-2.0},{"g":"Elovl7","s":2,"v":0.7},{"g":"Elovl7","s":3,"v":0.7},{"g":"Elovl7","s":4,"v":0.2},{"g":"Elovl7","s":5,"v":0.8},{"g":"Elovl7","s":6,"v":-0.1},
{"g":"Abhd17b","s":1,"v":-1.6},{"g":"Abhd17b","s":2,"v":0.2},{"g":"Abhd17b","s":3,"v":0.0},{"g":"Abhd17b","s":4,"v":-0.5},{"g":"Abhd17b","s":5,"v":1.8},{"g":"Abhd17b","s":6,"v":-0.2},
{"g":"Hacd3","s":1,"v":-1.6},{"g":"Hacd3","s":2,"v":-0.3},{"g":"Hacd3","s":3,"v":0.0},{"g":"Hacd3","s":4,"v":1.6},{"g":"Hacd3","s":5,"v":1.0},{"g":"Hacd3","s":6,"v":-0.6},
{"g":"Abhd17c","s":1,"v":1.4},{"g":"Abhd17c","s":2,"v":-1.5},{"g":"Abhd17c","s":3,"v":-0.6},{"g":"Abhd17c","s":4,"v":-0.5},{"g":"Abhd17c","s":5,"v":0.6},{"g":"Abhd17c","s":6,"v":1.1},
{"g":"Scarb1","s":1,"v":0.7},{"g":"Scarb1","s":2,"v":1.6},{"g":"Scarb1","s":3,"v":-1.5},{"g":"Scarb1","s":4,"v":0.1},{"g":"Scarb1","s":5,"v":-0.8},{"g":"Scarb1","s":6,"v":0.0},
{"g":"Fabp5","s":1,"v":0.5},{"g":"Fabp5","s":2,"v":-1.4},{"g":"Fabp5","s":3,"v":-0.9},{"g":"Fabp5","s":4,"v":-0.3},{"g":"Fabp5","s":5,"v":1.1},{"g":"Fabp5","s":6,"v":1.4},
{"g":"Cd36","s":1,"v":-0.6},{"g":"Cd36","s":2,"v":-0.6},{"g":"Cd36","s":3,"v":-1.5},{"g":"Cd36","s":4,"v":0.7},{"g":"Cd36","s":5,"v":1.5},{"g":"Cd36","s":6,"v":0.8},
{"g":"Fabp4","s":1,"v":0.3},{"g":"Fabp4","s":2,"v":-1.0},{"g":"Fabp4","s":3,"v":-1.0},{"g":"Fabp4","s":4,"v":-0.8},{"g":"Fabp4","s":5,"v":1.8},{"g":"Fabp4","s":6,"v":0.6},
{"g":"Mttp","s":1,"v":-1.7},{"g":"Mttp","s":2,"v":-0.1},{"g":"Mttp","s":3,"v":-0.6},{"g":"Mttp","s":4,"v":1.1},{"g":"Mttp","s":5,"v":1.4},{"g":"Mttp","s":6,"v":-0.3},
{"g":"Slc27a1","s":1,"v":0.2},{"g":"Slc27a1","s":2,"v":-0.3},{"g":"Slc27a1","s":3,"v":-2.0},{"g":"Slc27a1","s":4,"v":0.8},{"g":"Slc27a1","s":5,"v":0.8},{"g":"Slc27a1","s":6,"v":1.1}
],
"grad":[{"a":-0.8,"b":3,"v":1},{"a":3,"b":12,"v":0.85},{"a":12,"b":23,"v":0.75},{"a":23,"b":34,"v":0.62},{"a":34,"b":46,"v":0.5},{"a":46,"b":62,"v":0.15},{"a":62,"b":72,"v":-0.2},{"a":72,"b":78,"v":-0.3},{"a":78,"b":84,"v":-0.6},{"a":84,"b":96,"v":-0.75},{"a":96,"b":99.5,"v":-1}],
"es1":[{"r":0,"es":0},{"r":1.71,"es":-0.02},{"r":1.9,"es":0.061},{"r":2.37,"es":0.138},{"r":2.65,"es":0.207},{"r":6.35,"es":0.163},{"r":6.54,"es":0.227},{"r":8.82,"es":0.196},{"r":9.19,"es":0.265},{"r":9.57,"es":0.309},{"r":10.05,"es":0.342},{"r":14.22,"es":0.298},{"r":14.41,"es":0.375},{"r":14.79,"es":0.393},{"r":15.73,"es":0.367},{"r":16.02,"es":0.436},{"r":16.4,"es":0.477},{"r":17.06,"es":0.495},{"r":17.82,"es":0.487},{"r":18.2,"es":0.508},{"r":18.96,"es":0.495},{"r":19.62,"es":0.526},{"r":22.75,"es":0.503},{"r":23.22,"es":0.526},{"r":26.07,"es":0.503},{"r":26.35,"es":0.52},{"r":28.91,"es":0.503},{"r":29.19,"es":0.515},{"r":34.69,"es":0.467},{"r":35.07,"es":0.477},{"r":36.78,"es":0.457},{"r":37.25,"es":0.472},{"r":40.0,"es":0.444},{"r":40.28,"es":0.457},{"r":44.08,"es":0.413},{"r":44.74,"es":0.431},{"r":45.5,"es":0.426},{"r":59.3,"es":0.298},{"r":59.4,"es":0.303},{"r":63.7,"es":0.258},{"r":63.8,"es":0.263},{"r":71.09,"es":0.189},{"r":71.56,"es":0.194},{"r":78.2,"es":0.138},{"r":78.67,"es":0.145},{"r":83.41,"es":0.094},{"r":83.89,"es":0.112},{"r":86.45,"es":0.082},{"r":87.96,"es":0.115},{"r":100,"es":0}],
"es2":[{"r":0,"es":0},{"r":1.71,"es":-0.02},{"r":1.99,"es":0.08},{"r":2.37,"es":0.15},{"r":2.65,"es":0.226},{"r":9.1,"es":0.167},{"r":9.29,"es":0.23},{"r":9.48,"es":0.274},{"r":16.11,"es":0.208},{"r":16.49,"es":0.265},{"r":16.87,"es":0.334},{"r":17.25,"es":0.368},{"r":17.73,"es":0.402},{"r":21.04,"es":0.37},{"r":21.33,"es":0.402},{"r":21.8,"es":0.425},{"r":22.56,"es":0.448},{"r":23.13,"es":0.462},{"r":29.0,"es":0.402},{"r":29.38,"es":0.425},{"r":32.61,"es":0.398},{"r":32.99,"es":0.42},{"r":33.93,"es":0.409},{"r":34.31,"es":0.425},{"r":36.97,"es":0.402},{"r":37.35,"es":0.414},{"r":43.6,"es":0.343},{"r":44.17,"es":0.361},{"r":44.74,"es":0.37},{"r":47.2,"es":0.357},{"r":59.3,"es":0.245},{"r":59.4,"es":0.25},{"r":63.1,"es":0.215},{"r":63.8,"es":0.222},{"r":71.09,"es":0.14},{"r":72.0,"es":0.145},{"r":78.2,"es":0.095},{"r":78.67,"es":0.108},{"r":87.68,"es":0.018},{"r":88.34,"es":0.045},{"r":90.62,"es":0.02},{"r":93.08,"es":0.064},{"r":100,"es":0}],
"es3":[{"r":0,"es":0},{"r":0.28,"es":0.043},{"r":0.76,"es":0.091},{"r":1.14,"es":0.12},{"r":1.71,"es":0.139},{"r":2.09,"es":0.163},{"r":2.65,"es":0.199},{"r":3.13,"es":0.23},{"r":4.17,"es":0.215},{"r":4.74,"es":0.254},{"r":5.69,"es":0.282},{"r":6.82,"es":0.318},{"r":8.06,"es":0.354},{"r":9.29,"es":0.342},{"r":10.43,"es":0.373},{"r":11.56,"es":0.39},{"r":13.27,"es":0.39},{"r":14.22,"es":0.414},{"r":15.17,"es":0.45},{"r":16.59,"es":0.438},{"r":17.82,"es":0.462},{"r":18.96,"es":0.474},{"r":19.91,"es":0.502},{"r":21.8,"es":0.502},{"r":22.75,"es":0.493},{"r":24.64,"es":0.493},{"r":26.54,"es":0.498},{"r":28.44,"es":0.486},{"r":30.33,"es":0.478},{"r":34.12,"es":0.469},{"r":35.07,"es":0.462},{"r":43.6,"es":0.407},{"r":47.39,"es":0.383},{"r":54.03,"es":0.33},{"r":62.56,"es":0.258},{"r":72.04,"es":0.175},{"r":79.62,"es":0.115},{"r":83.41,"es":0.091},{"r":87.2,"es":0.086},{"r":93.36,"es":0.031},{"r":93.84,"es":0.055},{"r":100,"es":0}],
"hits1":[{"r":1.7},{"r":2.1},{"r":2.4},{"r":2.7},{"r":6.4},{"r":6.5},{"r":8.8},{"r":9.1},{"r":9.4},{"r":9.9},{"r":10.0},{"r":14.2},{"r":14.5},{"r":14.8},{"r":15.7},{"r":16.0},{"r":16.3},{"r":16.7},{"r":17.1},{"r":18.2},{"r":19.6},{"r":23.1},{"r":26.2},{"r":29.0},{"r":34.9},{"r":35.3},{"r":37.3},{"r":40.3},{"r":44.4},{"r":44.7},{"r":45.3},{"r":59.3},{"r":63.7},{"r":71.1},{"r":71.6},{"r":73.0},{"r":78.5},{"r":83.6},{"r":86.4},{"r":87.0},{"r":88.0}],
"hits2":[{"r":1.71},{"r":2.09},{"r":2.46},{"r":2.65},{"r":9.1},{"r":9.29},{"r":9.48},{"r":16.11},{"r":16.4},{"r":16.68},{"r":16.97},{"r":17.25},{"r":17.73},{"r":21.04},{"r":21.52},{"r":22.09},{"r":23.13},{"r":29.0},{"r":32.8},{"r":34.12},{"r":37.35},{"r":44.17},{"r":44.45},{"r":44.74},{"r":45.12},{"r":47.2},{"r":59.34},{"r":63.13},{"r":63.7},{"r":71.09},{"r":71.56},{"r":72.04},{"r":72.99},{"r":78.48},{"r":87.96},{"r":90.99},{"r":93.08}],
"hits3":[{"r":0.28},{"r":0.57},{"r":0.85},{"r":1.14},{"r":1.52},{"r":1.9},{"r":2.18},{"r":2.65},{"r":2.94},{"r":3.32},{"r":3.7},{"r":4.74},{"r":5.12},{"r":5.4},{"r":5.88},{"r":6.35},{"r":6.82},{"r":7.39},{"r":8.06},{"r":8.53},{"r":9.29},{"r":9.76},{"r":10.43},{"r":11.37},{"r":11.85},{"r":12.51},{"r":13.27},{"r":13.93},{"r":14.5},{"r":15.17},{"r":15.64},{"r":16.11},{"r":16.59},{"r":17.16},{"r":17.82},{"r":18.58},{"r":19.05},{"r":19.34},{"r":19.72},{"r":20.09},{"r":20.47},{"r":21.42},{"r":21.99},{"r":22.56},{"r":23.89},{"r":24.64},{"r":25.59},{"r":26.26},{"r":27.3},{"r":28.44},{"r":29.57},{"r":31.09},{"r":32.04},{"r":33.18},{"r":34.6},{"r":35.26},{"r":39.81},{"r":44.08},{"r":45.69},{"r":49.29},{"r":54.79},{"r":55.17},{"r":55.55},{"r":58.58},{"r":58.96},{"r":63.03},{"r":66.82},{"r":68.44},{"r":70.62},{"r":71.09},{"r":71.66},{"r":73.18},{"r":77.73},{"r":78.67},{"r":81.52},{"r":83.41},{"r":85.31},{"r":87.01},{"r":93.36},{"r":93.65}],
"keggC":[{"p":"Arachidonic acid metabolism","rf":0.012,"pv":0.038,"n":1},{"p":"alpha-Linolenic acid metabolism","rf":0.022,"pv":0.027,"n":1},{"p":"Linoleic acid metabolism","rf":0.035,"pv":0.018,"n":1},{"p":"Choline metabolism in cancer","rf":0.09,"pv":0.008,"n":1},{"p":"Glycosylphosphatidylinositol|(GPI)-anchor biosynthesis","rf":0.142,"pv":0.005,"n":1},{"p":"Autophagy - animal","rf":0.166,"pv":0.005,"n":1},{"p":"Kaposi sarcoma-associated|herpesvirus infection","rf":0.2,"pv":0.004,"n":1},{"p":"Autophagy - other","rf":0.333,"pv":0.003,"n":1},{"p":"Retrograde endocannabinoid|signaling","rf":0.105,"pv":0.002,"n":2},{"p":"Glycerophospholipid metabolism","rf":0.0526,"pv":0.001,"n":3}],
"bp":[{"t":"lipid metabolic process","rf":5.4},{"t":"lipid biosynthetic process","rf":4.09},{"t":"cellular lipid metabolic process","rf":3.38},{"t":"glycerolipid metabolic process","rf":3.21},{"t":"lipid catabolic process","rf":3.11},{"t":"response to lipid","rf":2.64},{"t":"cellular response to lipid","rf":2.52},{"t":"cellular lipid catabolic process","rf":2.38},{"t":"regulation of lipid metabolic process","rf":2.28},{"t":"regulation of lipid biosynthetic process","rf":1.82},{"t":"neutral lipid metabolic process","rf":1.82}],
"keggE":[{"p":"Fatty acid elongation","rf":7.54,"lp":2.3,"c":2},{"p":"Biosynthesis of unsaturated fatty acids","rf":7.54,"lp":2.3,"c":2},{"p":"ECM−receptor interaction","rf":5.74,"lp":2.9,"c":4},{"p":"mTOR signaling pathway","rf":5.18,"lp":3.55,"c":7},{"p":"Steroid hormone biosynthesis","rf":4.05,"lp":1.95,"c":3},{"p":"Hippo signaling pathway","rf":3.8,"lp":2.3,"c":5},{"p":"Wnt signaling pathway","rf":3.71,"lp":2.3,"c":5},{"p":"Cushing syndrome","rf":2.96,"lp":1.65,"c":4},{"p":"Cell adhesion molecules","rf":2.88,"lp":1.6,"c":4},{"p":"Platelet activation","rf":2.79,"lp":1.45,"c":3},{"p":"AMPK signaling pathway","rf":2.76,"lp":1.45,"c":3},{"p":"Relaxin signaling pathway","rf":2.71,"lp":1.45,"c":3},{"p":"Arachidonic acid metabolism","rf":2.65,"lp":1.15,"c":2},{"p":"Retinol metabolism","rf":2.62,"lp":1.12,"c":2},{"p":"TGF−beta signaling pathway","rf":2.6,"lp":1.1,"c":2}]
},
"resolve":{"scale":{"color":"independent","size":"independent"},"legend":{"color":"independent","size":"independent"}},
"vconcat":[
{"resolve":{"scale":{"color":"independent","size":"independent"},"legend":{"color":"independent","size":"independent"}},
 "hconcat":[
 {"width":1,"height":1,"data":{"values":[]},"mark":"point"},
 {"resolve":{"scale":{"color":"independent","size":"independent"},"legend":{"color":"independent","size":"independent"}},
  "hconcat":[
  {"bounds":"flush","spacing":39,"resolve":{"scale":{"color":"independent","size":"independent"},"legend":{"color":"independent","size":"independent"}},"vconcat":[
   {"width":1,"height":1,"data":{"values":[]},"mark":"point","title":{"text":"A","anchor":"start","fontSize":32,"offset":0,"dx":-110}},
   {"width":723,"height":697,
    "title":{"text":"Sox9ᴴᴷᴼ vs Sox9ᶠ/ᶠ volcano","fontSize":27,"offset":12,"frame":"group","dx":19,"dy":32},
    "view":{"stroke":"black","strokeWidth":4},
    "layer":[
     {"data":{"name":"volcano"},"transform":[{"calculate":"abs(datum.x)","as":"ax"}],
      "mark":{"type":"circle","opacity":1},
      "encoding":{
       "x":{"field":"x","type":"quantitative","scale":{"domain":[-0.1666,0.148],"nice":false,"zero":false},
        "axis":{"values":[-0.16,-0.14,-0.12,-0.1,-0.08,-0.06,-0.04,-0.02,0,0.02,0.04,0.06,0.08,0.1,0.12,0.14],"labelExpr":"datum.value < -0.001 ? '-' + format(-datum.value, '.2~f') : format(datum.value, '.2~f')","domain":false,"grid":false,"tickSize":10,"tickWidth":3,"labelFontSize":20,"labelPadding":6,"labelFlush":false,"labelOverlap":false,"titleFontSize":28,"titlePadding":10},"title":"Log₂Fold Change"},
       "y":{"field":"y","type":"quantitative","scale":{"domain":[0,4],"nice":false},
        "axis":{"values":[0,0.5,1,1.5,2,2.5,3,3.5,4],"labelExpr":"format(datum.value, '~g')","domain":false,"grid":false,"tickSize":8,"tickWidth":3,"labelFontSize":28,"labelPadding":4,"titleFontSize":29,"titlePadding":16,"labelFlush":false},"title":"-Log10(pvalue)"},
       "color":{"field":"s","type":"nominal","scale":{"domain":["up","nosig","down"],"range":["#ff0000","#808080","#0000ff"]},
        "legend":{"title":"Significant","orient":"none","legendX":746,"legendY":-30,"titleFontSize":28,"labelFontSize":28,"symbolType":"circle","symbolSize":370,"symbolStrokeWidth":0,"rowPadding":7,"titlePadding":12,"labelOffset":4}},
       "size":{"field":"ax","type":"quantitative","scale":{"type":"sqrt","domain":[0,0.14],"range":[30,200],"zero":false},"legend":null}}},
     {"data":{"values":[{}]},"mark":{"type":"rule","color":"black","strokeWidth":3.5,"strokeDash":[14,8]},"encoding":{"x":{"datum":0}}},
     {"data":{"values":[{}]},"mark":{"type":"rule","color":"black","strokeWidth":3.5,"strokeDash":[14,8]},"encoding":{"x":{"datum":-0.16},"x2":{"datum":0.14},"y":{"datum":1.3}}}
    ]}
  ]},
  {"bounds":"flush","spacing":3,"resolve":{"scale":{"color":"independent","size":"independent"},"legend":{"color":"independent","size":"independent"}},"vconcat":[
   {"width":1,"height":1,"data":{"values":[]},"mark":"point","title":{"text":"B","anchor":"start","fontSize":32,"offset":0,"dx":-159}},
   {"bounds":"flush","spacing":0,"resolve":{"scale":{"color":"independent","size":"independent"},"legend":{"color":"independent","size":"independent"}},"vconcat":[
    {"width":547,"height":10,"data":{"values":[{}]},"layer":[
     {"mark":{"type":"text","fontSize":29,"fontStyle":"italic","baseline":"middle"},"encoding":{"x":{"datum":3.6,"type":"quantitative","scale":{"domain":[0,14],"nice":false,"zero":false},"axis":null},"y":{"datum":3.2,"type":"quantitative","scale":{"domain":[0,1],"nice":false},"axis":null},"text":{"value":"Sox9ᶠ/ᶠ"}}},
     {"mark":{"type":"text","fontSize":29,"fontStyle":"italic","baseline":"middle"},"encoding":{"x":{"datum":10.8},"y":{"datum":3.2},"text":{"value":"Sox9ᴴᴷᴼ"}}},
     {"mark":{"type":"rule","strokeWidth":3.5,"color":"black"},"encoding":{"x":{"datum":0.36},"x2":{"datum":7.01},"y":{"datum":1.3}}},
     {"mark":{"type":"rule","strokeWidth":3.5,"color":"black"},"encoding":{"x":{"datum":7.35},"x2":{"datum":14.0},"y":{"datum":1.3}}}
    ]},
    {"width":547,"height":772,"data":{"name":"bheat"},
     "mark":{"type":"rect","stroke":"#c6c6c6","strokeWidth":2},
     "encoding":{
      "x":{"field":"s","type":"ordinal","axis":null,"scale":{"paddingInner":0,"paddingOuter":0}},
      "y":{"field":"g","type":"nominal","sort":null,"scale":{"paddingInner":0,"paddingOuter":0},"axis":{"orient":"right","ticks":false,"domain":false,"labelFontSize":21.5,"labelPadding":14,"title":null}},
      "color":{"field":"v","type":"quantitative","scale":{"domain":[-3.3,0,3.3],"range":["#1f75c9","#ffffff","#e1483a"],"interpolate":"rgb"},
       "legend":{"orient":"none","legendX":831,"legendY":-1,"title":null,"gradientLength":202,"gradientThickness":22,"values":[-3,-2,-1,0,1,2,3],"labelFontSize":26,"labelOffset":10,"labelOverlap":false,"labelBaseline":"middle","labelExpr":"datum.value < 0 ? '-' + format(-datum.value, 'd') : format(datum.value, 'd')"}}}}
   ]}
  ]}
 ],"spacing":17}
],"spacing":15},
{"resolve":{"scale":{"color":"independent","size":"independent"},"legend":{"color":"independent","size":"independent"}},
 "vconcat":[
 {"resolve":{"scale":{"color":"independent","size":"independent"},"legend":{"color":"independent","size":"independent"}},
  "hconcat":[
  {"width":1,"height":1,"data":{"values":[]},"mark":"point"},
  {"resolve":{"scale":{"color":"independent","size":"independent"},"legend":{"color":"independent","size":"independent"}},
   "hconcat":[
   {"bounds":"flush","spacing":44,"resolve":{"scale":{"color":"independent","size":"independent"},"legend":{"color":"independent","size":"independent"}},"vconcat":[
    {"width":1,"height":1,"data":{"values":[]},"mark":"point","title":{"text":"C","anchor":"start","fontSize":32,"offset":0,"dx":-325}},
    {"width":558,"height":601,
     "title":{"text":"KEGG Enrichment Analysis","fontSize":27,"offset":17,"frame":"group","dx":8},
     "view":{"stroke":"black","strokeWidth":4},
     "data":{"name":"keggC"},
     "mark":{"type":"circle","opacity":1},
     "encoding":{
      "x":{"field":"rf","type":"quantitative","scale":{"domain":[-0.05,0.35],"nice":false,"zero":false},
       "axis":{"values":[-0.05,0,0.05,0.1,0.15,0.2,0.25,0.3,0.35],"labelExpr":"datum.value < -0.001 ? '-' + format(-datum.value, '.2~f') : format(datum.value, '.2~f')","grid":true,"gridColor":"#dedede","gridWidth":3,"domain":false,"tickSize":8,"tickWidth":2.5,"labelFontSize":27,"titleFontSize":28,"labelPadding":4,"titlePadding":6,"labelFlush":false},"title":"Rich factor"},
      "y":{"field":"p","type":"nominal","sort":null,"scale":{"type":"point","padding":0.5},
       "axis":{"grid":true,"gridColor":"#dedede","gridWidth":3,"domain":false,"tickSize":7,"tickWidth":3,"labelFontSize":21.5,"labelExpr":"split(datum.label, '|')","labelLineHeight":27,"labelPadding":8,"title":null}},
      "color":{"field":"pv","type":"quantitative","scale":{"domain":[-0.0021,0.0421],"range":["#c84b37","#1978be"],"interpolate":"rgb"},
       "legend":{"title":"P_value","orient":"none","legendX":587,"legendY":6,"gradientLength":133,"gradientThickness":26,"values":[0,0.01,0.02,0.03,0.04],"format":".2f","titleFontSize":22,"labelFontSize":22,"titlePadding":12,"labelOffset":8,"labelOverlap":false,"labelBaseline":"middle"}},
      "size":{"field":"n","type":"quantitative","scale":{"domain":[1,3],"range":[150,320]},
       "legend":{"title":"Number","orient":"none","legendX":575,"legendY":199,"values":[1,2,3],"format":"d","symbolFillColor":"black","symbolStrokeColor":"black","symbolType":"circle","titleFontSize":22,"labelFontSize":22,"rowPadding":4}}}}
   ]},
   {"bounds":"flush","spacing":111,"resolve":{"scale":{"color":"independent","size":"independent"},"legend":{"color":"independent","size":"independent"}},"vconcat":[
    {"width":1,"height":1,"data":{"values":[]},"mark":"point","title":{"text":"D","anchor":"start","fontSize":32,"offset":0,"dx":-511}},
    {"width":535,"height":440,
     "title":{"text":"Biological process","fontSize":28,"offset":10,"frame":"group","dx":4},
     "data":{"name":"bp"},
     "mark":{"type":"bar","color":"#5b9bd5"},
     "encoding":{
      "y":{"field":"t","type":"nominal","sort":null,"scale":{"paddingInner":0.5,"paddingOuter":0.25},"axis":{"ticks":false,"domain":false,"labelFontSize":29,"labelPadding":9,"title":null}},
      "x":{"field":"rf","type":"quantitative","scale":{"domain":[0,6],"nice":false},"axis":{"values":[0,1,2,3,4,5,6],"grid":true,"gridColor":"#d9d9d9","gridWidth":2,"domain":false,"ticks":false,"labelFontSize":29,"titleFontSize":29,"labelPadding":6,"titlePadding":10},"title":"Rich factor"}}}
   ]}
  ],"spacing":19}
 ],"spacing":4},
 {"resolve":{"scale":{"color":"independent","size":"independent"},"legend":{"color":"independent","size":"independent"}},
  "hconcat":[
  {"width":1,"height":1,"data":{"values":[]},"mark":"point"},
  {"resolve":{"scale":{"color":"independent","size":"independent"},"legend":{"color":"independent","size":"independent"}},
   "hconcat":[
   {"bounds":"flush","spacing":53,"resolve":{"scale":{"color":"independent","size":"independent"},"legend":{"color":"independent","size":"independent"}},"vconcat":[
    {"width":1,"height":1,"data":{"values":[]},"mark":"point","title":{"text":"E","anchor":"start","fontSize":32,"offset":0,"dx":-412}},
    {"width":325,"height":826,
     "title":{"text":"KEGG Pathway","fontSize":27,"offset":11,"frame":"group","dx":-3},
     "view":{"stroke":"#333333","strokeWidth":2},
     "data":{"name":"keggE"},
     "mark":{"type":"circle","opacity":1},
     "encoding":{
      "x":{"field":"rf","type":"quantitative","scale":{"domain":[2.37,7.78],"nice":false,"zero":false},
       "axis":{"values":[2.5,3,3.5,4,4.5,5,5.5,6,6.5,7,7.5],"labelExpr":"datum.value % 1 == 0 ? format(datum.value, 'd') : ''","tickOpacity":{"condition":{"test":"datum.value % 1 != 0","value":0},"value":1},"grid":true,"gridColor":"#ebebeb","gridWidth":{"condition":{"test":"datum.value % 1 != 0","value":1.2},"value":2.4},"domain":false,"tickSize":6,"tickWidth":2,"tickColor":"#333333","labelFontSize":28,"titleFontSize":28,"labelPadding":3,"titlePadding":4},"title":"Rich factor"},
      "y":{"field":"p","type":"nominal","sort":null,"scale":{"type":"point","padding":0.5},
       "axis":{"grid":true,"gridColor":"#ebebeb","gridWidth":2.4,"domain":false,"tickSize":6,"tickWidth":2,"tickColor":"#333333","labelFontSize":21,"labelPadding":3,"title":null}},
      "color":{"field":"lp","type":"quantitative","scale":{"domain":[1.05,3.6],"range":["#00ff00","#ff0000"],"interpolate":"lab"},
       "legend":{"title":"−log₁₀(pvalue)","orient":"none","legendX":360,"legendY":0,"gradientLength":194,"gradientThickness":38,"values":[1.5,2,2.5,3,3.5],"format":".1f","titleFontSize":28,"labelFontSize":28,"titlePadding":16,"labelOffset":10}},
      "size":{"field":"c","type":"quantitative","scale":{"type":"sqrt","domain":[2,7],"range":[129,804],"zero":false},
       "legend":{"title":"count","orient":"none","legendX":363,"legendY":284,"values":[2,3,4,5,6,7],"symbolFillColor":"black","symbolStrokeColor":"black","symbolType":"circle","titleFontSize":28,"labelFontSize":28,"rowPadding":8}}}}
   ]},
   {"bounds":"flush","spacing":22,"resolve":{"scale":{"color":"independent","size":"independent"},"legend":{"color":"independent","size":"independent"}},"vconcat":[
    {"width":1,"height":1,"data":{"values":[]},"mark":"point","title":{"text":"F","anchor":"start","fontSize":32,"offset":0,"dx":-92}},
    {"bounds":"flush","spacing":58,"resolve":{"scale":{"color":"independent","size":"independent"},"legend":{"color":"independent","size":"independent"}},"vconcat":[
     {"width":953,"height":10,"data":{"values":[{}]},"layer":[
      {"mark":{"type":"text","fontSize":28,"baseline":"middle","align":"center"},"encoding":{"x":{"datum":0.4575,"type":"quantitative","scale":{"domain":[0,1],"nice":false,"zero":false},"axis":null},"y":{"datum":2.8,"type":"quantitative","scale":{"domain":[0,1],"nice":false},"axis":null},"text":{"value":"Lipid metabolism"}}},
      {"mark":{"type":"rule","strokeWidth":3,"color":"black"},"encoding":{"x":{"datum":-0.043},"x2":{"datum":1},"y":{"datum":0.3}}}
     ]},
     {"resolve":{"scale":{"color":"independent","size":"independent"},"legend":{"color":"independent","size":"independent"}},
      "hconcat":[
      {"bounds":"flush","spacing":90,"resolve":{"scale":{"color":"independent","size":"independent"},"legend":{"color":"independent","size":"independent"}},"vconcat":[
       {"width":369,"height":212,
        "title":{"text":"Biosynthesis of  unsaturated fatty acids","fontSize":24,"offset":14,"frame":"group","dx":8},
        "view":{"stroke":"black","strokeWidth":4},
        "layer":[
         {"data":{"name":"grad"},"mark":"rect","encoding":{
          "x":{"field":"a","type":"quantitative","scale":{"domain":[-0.8,104.7],"nice":false,"zero":false},"axis":{"values":[-0.8,104.7],"labelExpr":"datum.value < 50 ? 'Sox9ᴴᴷᴼ' : 'Sox9ᶠ/ᶠ'","labelAlign":{"condition":{"test":"datum.value < 50","value":"left"},"value":"right"},"ticks":false,"domain":false,"grid":false,"labelFontSize":24,"labelFontStyle":"italic","labelPadding":6,"labelFlush":false,"labelOverlap":false,"title":null}},
          "x2":{"field":"b"},
          "y":{"datum":-0.245,"type":"quantitative","scale":{"domain":[-0.288,0.553],"nice":false,"zero":false},"axis":{"values":[0,0.1,0.2,0.3,0.4,0.5],"format":".1f","domain":false,"ticks":false,"grid":true,"gridColor":"#eeeeee","gridDash":[2,2],"labelFontSize":20,"labelPadding":8,"title":"Enrichment Score (ES)","titleFontSize":20,"titlePadding":8}},
          "y2":{"datum":-0.283},
          "color":{"field":"v","type":"quantitative","scale":{"domain":[-1,-0.75,-0.6,-0.3,-0.2,0.15,0.5,0.62,0.75,0.85,1],"range":["#1a10c8","#5a5ae8","#7f7ff0","#c8c8f4","#d8d4f4","#f4bce0","#f58a8a","#f47272","#f05c5c","#ec4a4a","#e42a2a"],"interpolate":"rgb"},"legend":null}}},
         {"data":{"name":"hits1"},"mark":{"type":"rule","color":"#222222","strokeWidth":1.5},"encoding":{"x":{"field":"r","type":"quantitative"},"y":{"datum":-0.054},"y2":{"datum":-0.232}}},
         {"data":{"values":[{}]},"mark":{"type":"rule","color":"#c8c8c8","strokeWidth":1.5},"encoding":{"y":{"datum":0}}},
         {"data":{"values":[{}]},"mark":{"type":"rule","color":"#999999","strokeWidth":1.5},"encoding":{"y":{"datum":-0.045}}},
         {"data":{"name":"es1"},"mark":{"type":"line","color":"#1ee61e","strokeWidth":2.5},"encoding":{"x":{"field":"r","type":"quantitative"},"y":{"field":"es","type":"quantitative"}}},
         {"data":{"values":[{"t":"NES=1.5502849\nq=0.008907145\np=0.014908257"}]},"mark":{"type":"text","align":"left","baseline":"top","fontSize":18,"lineBreak":"\n","lineHeight":21},"encoding":{"x":{"datum":65.2},"y":{"datum":0.525},"text":{"field":"t"}}}
        ]},
       {"width":369,"height":212,
        "title":{"text":"Fatty acid elongation","fontSize":27,"offset":9,"frame":"group","dx":-2},
        "view":{"stroke":"black","strokeWidth":4},
        "layer":[
         {"data":{"name":"grad"},"mark":"rect","encoding":{
          "x":{"field":"a","type":"quantitative","scale":{"domain":[-0.8,104.7],"nice":false,"zero":false},"axis":{"values":[-0.8,104.7],"labelExpr":"datum.value < 50 ? 'Sox9ᴴᴷᴼ' : 'Sox9ᶠ/ᶠ'","labelAlign":{"condition":{"test":"datum.value < 50","value":"left"},"value":"right"},"ticks":false,"domain":false,"grid":false,"labelFontSize":24,"labelFontStyle":"italic","labelPadding":6,"labelFlush":false,"labelOverlap":false,"title":null}},
          "x2":{"field":"b"},
          "y":{"datum":-0.226,"type":"quantitative","scale":{"domain":[-0.265,0.489],"nice":false,"zero":false},"axis":{"values":[0,0.1,0.2,0.3,0.4],"format":".1f","domain":false,"ticks":false,"grid":true,"gridColor":"#eeeeee","gridDash":[2,2],"labelFontSize":20,"labelPadding":8,"title":"Enrichment Score (ES)","titleFontSize":20,"titlePadding":8}},
          "y2":{"datum":-0.26},
          "color":{"field":"v","type":"quantitative","scale":{"domain":[-1,-0.75,-0.6,-0.3,-0.2,0.15,0.5,0.62,0.75,0.85,1],"range":["#1a10c8","#5a5ae8","#7f7ff0","#c8c8f4","#d8d4f4","#f4bce0","#f58a8a","#f47272","#f05c5c","#ec4a4a","#e42a2a"],"interpolate":"rgb"},"legend":null}}},
         {"data":{"name":"hits2"},"mark":{"type":"rule","color":"#222222","strokeWidth":1.5},"encoding":{"x":{"field":"r","type":"quantitative"},"y":{"datum":-0.046},"y2":{"datum":-0.219}}},
         {"data":{"values":[{}]},"mark":{"type":"rule","color":"#c8c8c8","strokeWidth":1.5},"encoding":{"y":{"datum":0}}},
         {"data":{"values":[{}]},"mark":{"type":"rule","color":"#999999","strokeWidth":1.5},"encoding":{"y":{"datum":-0.04}}},
         {"data":{"name":"es2"},"mark":{"type":"line","color":"#1ee61e","strokeWidth":2.5},"encoding":{"x":{"field":"r","type":"quantitative"},"y":{"field":"es","type":"quantitative"}}},
         {"data":{"values":[{"t":"NES=1.370664\nq=0.03542181\np=0.07596372"}]},"mark":{"type":"text","align":"left","baseline":"top","fontSize":18,"lineBreak":"\n","lineHeight":21},"encoding":{"x":{"datum":68.9},"y":{"datum":0.463},"text":{"field":"t"}}}
        ]},
       {"width":369,"height":213,
        "title":{"text":"Ppar signaling pathway","fontSize":27,"offset":11,"frame":"group"},
        "view":{"stroke":"black","strokeWidth":4},
        "layer":[
         {"data":{"name":"grad"},"mark":"rect","encoding":{
          "x":{"field":"a","type":"quantitative","scale":{"domain":[-0.8,104.7],"nice":false,"zero":false},"axis":{"values":[-0.8,104.7],"labelExpr":"datum.value < 50 ? 'Sox9ᴴᴷᴼ' : 'Sox9ᶠ/ᶠ'","labelAlign":{"condition":{"test":"datum.value < 50","value":"left"},"value":"right"},"ticks":false,"domain":false,"grid":false,"labelFontSize":24,"labelFontStyle":"italic","labelPadding":6,"labelFlush":false,"labelOverlap":false,"title":null}},
          "x2":{"field":"b"},
          "y":{"datum":-0.213,"type":"quantitative","scale":{"domain":[-0.249,0.545],"nice":false,"zero":false},"axis":{"values":[0,0.1,0.2,0.3,0.4,0.5],"format":".1f","domain":false,"ticks":false,"grid":true,"gridColor":"#eeeeee","gridDash":[2,2],"labelFontSize":20,"labelPadding":8,"title":"Enrichment Score (ES)","titleFontSize":20,"titlePadding":8}},
          "y2":{"datum":-0.244},
          "color":{"field":"v","type":"quantitative","scale":{"domain":[-1,-0.75,-0.6,-0.3,-0.2,0.15,0.5,0.62,0.75,0.85,1],"range":["#1a10c8","#5a5ae8","#7f7ff0","#c8c8f4","#d8d4f4","#f4bce0","#f58a8a","#f47272","#f05c5c","#ec4a4a","#e42a2a"],"interpolate":"rgb"},"legend":null}}},
         {"data":{"name":"hits3"},"mark":{"type":"rule","color":"#222222","strokeWidth":1.5},"encoding":{"x":{"field":"r","type":"quantitative"},"y":{"datum":-0.024},"y2":{"datum":-0.208}}},
         {"data":{"values":[{}]},"mark":{"type":"rule","color":"#c8c8c8","strokeWidth":1.5},"encoding":{"y":{"datum":0}}},
         {"data":{"values":[{}]},"mark":{"type":"rule","color":"#999999","strokeWidth":1.5},"encoding":{"y":{"datum":-0.02}}},
         {"data":{"name":"es3"},"mark":{"type":"line","color":"#1ee61e","strokeWidth":2.5},"encoding":{"x":{"field":"r","type":"quantitative"},"y":{"field":"es","type":"quantitative"}}},
         {"data":{"values":[{"t":"NES=1.7588081\nq=0.001\np=0.0010638298"}]},"mark":{"type":"text","align":"left","baseline":"top","fontSize":18,"lineBreak":"\n","lineHeight":21},"encoding":{"x":{"datum":65.8},"y":{"datum":0.523},"text":{"field":"t"}}}
        ]}
      ]},
      {"bounds":"flush","spacing":0,"resolve":{"scale":{"color":"independent","size":"independent"},"legend":{"color":"independent","size":"independent"}},"vconcat":[
       {"width":405,"height":9,"data":{"values":[{}]},"layer":[
        {"mark":{"type":"text","fontSize":28,"fontStyle":"italic","baseline":"middle"},"encoding":{"x":{"datum":1.61,"type":"quantitative","scale":{"domain":[0,6],"nice":false,"zero":false},"axis":null},"y":{"datum":3.22,"type":"quantitative","scale":{"domain":[0,1],"nice":false},"axis":null},"text":{"value":"Sox9ᶠ/ᶠ"}}},
        {"mark":{"type":"text","fontSize":28,"fontStyle":"italic","baseline":"middle"},"encoding":{"x":{"datum":4.56},"y":{"datum":3.22},"text":{"value":"Sox9ᴴᴷᴼ"}}},
        {"mark":{"type":"rule","strokeWidth":4,"color":"black"},"encoding":{"x":{"datum":0.04},"x2":{"datum":2.9},"y":{"datum":0.89}}},
        {"mark":{"type":"rule","strokeWidth":4,"color":"black"},"encoding":{"x":{"datum":3.07},"x2":{"datum":5.9},"y":{"datum":0.89}}}
       ]},
       {"width":405,"height":801,"view":{"stroke":"black","strokeWidth":4},"data":{"name":"fheat"},
        "layer":[
         {"mark":"rect","encoding":{
          "x":{"field":"s","type":"ordinal","scale":{"paddingInner":0,"paddingOuter":0},"axis":{"title":"Lipid metabolism-related genes","labels":false,"ticks":false,"domain":false,"titleFontSize":29,"titlePadding":8}},
          "y":{"field":"g","type":"nominal","sort":null,"scale":{"paddingInner":0,"paddingOuter":0},"axis":{"orient":"right","ticks":false,"domain":false,"labelFontSize":28,"labelPadding":7,"title":null}},
          "color":{"field":"v","type":"quantitative","scale":{"domain":[-2,0,2],"range":["#0000ff","#ffffff","#ff0000"],"interpolate":"rgb"},
           "legend":{"orient":"none","legendX":204,"legendY":847,"direction":"horizontal","title":null,"gradientLength":204,"gradientThickness":27,"values":[-2,-1,0,1,2],"labelFontSize":22,"labelOffset":6,"labelOverlap":false,"labelExpr":"datum.value < 0 ? '-' + format(-datum.value, 'd') : format(datum.value, 'd')"}}}},
         {"mark":{"type":"rect","opacity":0},"encoding":{
          "x":{"field":"s","type":"ordinal"},
          "y":{"field":"g","type":"nominal","sort":null,"axis":{"orient":"left","labels":false,"ticks":false,"domain":true,"domainWidth":5,"domainColor":"black","offset":11,"title":"Fatty acid transportation, synthesis and elongation","titleFontSize":25,"titlePadding":6}}}}
        ],
        "resolve":{"axis":{"y":"independent"}}}
      ]}
     ],"spacing":4}
    ]}
   ]}
  ],"spacing":56}
 ],"spacing":10}
],"spacing":9}
],
"spacing":19
}
